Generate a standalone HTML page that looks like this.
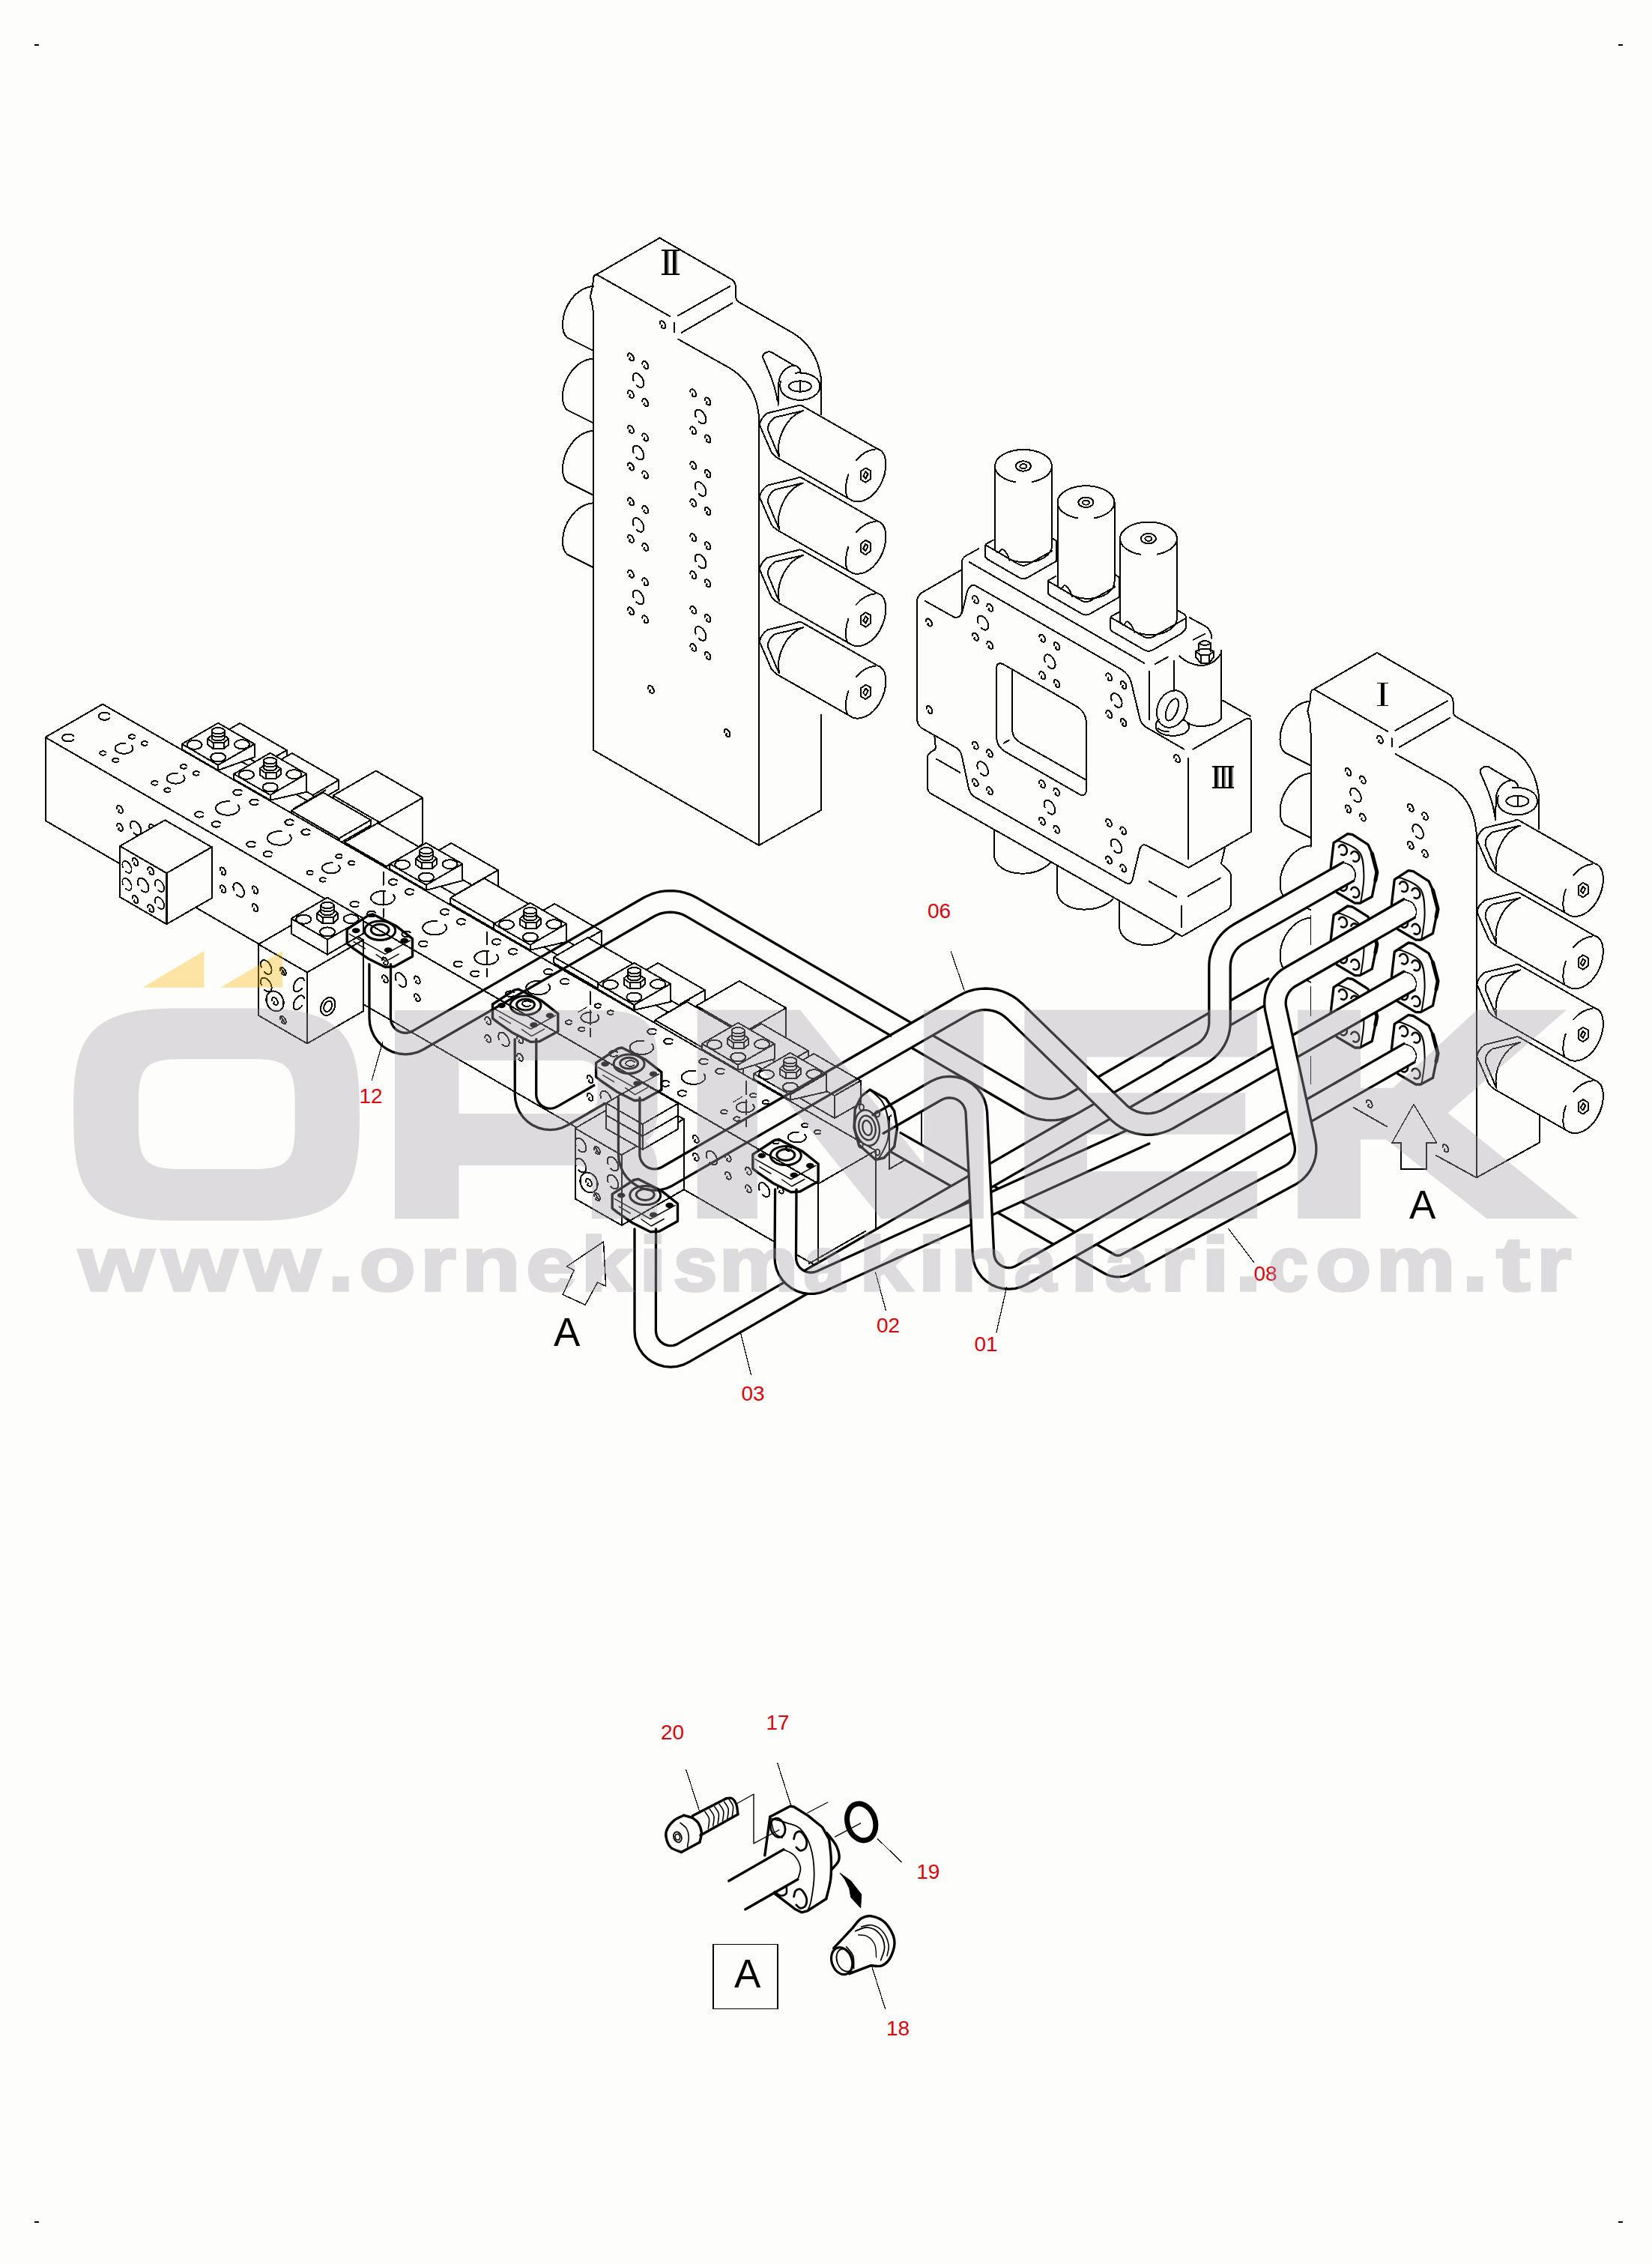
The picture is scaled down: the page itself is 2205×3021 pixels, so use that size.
<!DOCTYPE html>
<html><head><meta charset="utf-8"><title>diagram</title>
<style>html,body{margin:0;padding:0;background:#fdfefc}svg{display:block}text{font-family:"Liberation Sans",sans-serif}</style>
</head><body>
<svg width="2205" height="3021" viewBox="0 0 2205 3021">
<rect width="2205" height="3021" fill="#fdfefc"/>
<defs>
<path id="hs" d="M-3.8 -1.2 C-3.8 -1.5 -3.9 -2.4 -3.8 -3 C-3.8 -3.5 -3.6 -3.9 -3.3 -4.3 C-3.1 -4.6 -2.7 -4.9 -2.3 -5 C-1.9 -5.1 -1.4 -5 -0.9 -4.9 C-0.4 -4.8 0.1 -4.5 0.6 -4.1 C1.1 -3.7 1.6 -3.2 2 -2.7 C2.4 -2.1 2.8 -1.5 3.1 -0.9 C3.4 -0.2 3.7 0.5 3.8 1.1 C3.9 1.7 3.9 2.3 3.9 2.9 C3.8 3.4 3.6 3.9 3.4 4.2 C3.1 4.6 2.7 4.8 2.3 4.9 C2 5.1 1.5 5.1 1 4.9 C0.5 4.8 -0 4.5 -0.5 4.2 C-1 3.8 -1.9 3.3 -1.9 2.8 C-2 2.2 -1.1 1.3 -0.9 1"/>
<path id="hb" d="M-6.4 0.2 C-6.6 -0.3 -7.1 -2 -7.2 -3 C-7.3 -4 -7.3 -5 -7.1 -5.8 C-7 -6.7 -6.6 -7.4 -6.2 -8 C-5.8 -8.5 -5.2 -9 -4.5 -9.2 C-3.9 -9.4 -3.1 -9.4 -2.3 -9.3 C-1.5 -9.2 -0.7 -8.8 0.2 -8.3 C1 -7.8 1.9 -7.1 2.6 -6.3 C3.4 -5.5 4.2 -4.6 4.8 -3.6 C5.4 -2.6 6 -1.5 6.4 -0.4 C6.8 0.6 7 1.8 7.2 2.8 C7.3 3.8 7.3 4.8 7.1 5.7 C7 6.5 6.7 7.3 6.3 7.9 C5.8 8.5 5.3 8.9 4.6 9.1 C4 9.4 3.2 9.5 2.5 9.3 C1.7 9.2 0.8 8.9 -0 8.4 C-0.8 7.9 -2.1 6.8 -2.5 6.5"/>
<path id="hsv" d="M3.9 -2.6 C3.8 -2.9 3.7 -3.6 3.5 -4 C3.3 -4.4 3 -4.7 2.7 -4.8 C2.3 -5 1.9 -5.1 1.4 -5 C1 -5 0.5 -4.8 0 -4.5 C-0.4 -4.3 -0.9 -3.9 -1.4 -3.4 C-1.8 -3 -2.2 -2.4 -2.6 -1.9 C-2.9 -1.3 -3.2 -0.7 -3.5 -0.1 C-3.7 0.5 -3.8 1.2 -3.9 1.7 C-3.9 2.3 -3.9 2.9 -3.8 3.3 C-3.7 3.8 -3.4 4.2 -3.2 4.5 C-2.9 4.7 -2.5 4.9 -2.1 5 C-1.7 5.1 -1.3 5 -0.8 4.9 C-0.4 4.7 0.1 4.4 0.6 4.1 C1.1 3.7 1.7 3 1.9 2.8"/>
<path id="hbv" d="M7.2 -5.6 C7 -5.9 6.8 -7.1 6.4 -7.7 C6 -8.3 5.5 -8.7 5 -9 C4.4 -9.3 3.7 -9.4 3 -9.4 C2.3 -9.4 1.6 -9.2 0.8 -8.8 C0 -8.5 -0.8 -7.9 -1.5 -7.3 C-2.3 -6.7 -3 -5.9 -3.7 -5.1 C-4.4 -4.3 -5 -3.3 -5.5 -2.3 C-6 -1.4 -6.4 -0.3 -6.7 0.7 C-7 1.7 -7.2 2.7 -7.3 3.6 C-7.3 4.5 -7.2 5.4 -7 6.2 C-6.9 6.9 -6.5 7.6 -6.1 8.1 C-5.7 8.6 -5.2 9 -4.6 9.2 C-4 9.4 -3.2 9.4 -2.5 9.3 C-1.8 9.2 -1 8.9 -0.2 8.5 C0.5 8.1 1.3 7.5 2.1 6.9 C2.8 6.2 3.8 4.9 4.2 4.5"/>
</defs>
<g fill="none" stroke="#000" stroke-width="2" stroke-linecap="round" stroke-linejoin="round" shape-rendering="crispEdges">
<g transform="translate(0 0)">
<path d="M796.2 366.2 L880.5 317.5 L973.7 371.2 Q981.5 375 982 382 L982 395 Q982 400.5 987 403.5 L1056 443 Q1090 462 1096 505 L1096 553"/>
<path d="M796.2 366.2 L894.5 422.3"/>
<path d="M905 452.5 L972 490 Q1009 511 1013 556 L1013 1128"/>
<path d="M796.2 366.2 Q792 367.5 792 372 L791 382 L787.8 396 Q792 408 792 424"/>
<path d="M905 421.2 L974.2 382"/>
<path d="M910 443.7 L977.5 404.5"/>
<path d="M900 431.2 L900 443"/>
<use href="#hs" x="884.5" y="433.3"/>
<path d="M792 382 C768 384 751 410 751 433 C751 441 753 447 757 450.5 L792 468"/>
<path d="M792 478.4 C768 480.4 751 506.4 751 529.4 C751 537.4 753 543.4 757 546.9 L792 564.4"/>
<path d="M792 574.8 C768 576.8 751 602.8 751 625.8 C751 633.8 753 639.8 757 643.3 L792 660.8"/>
<path d="M792 671.2 C768 673.2 751 699.2 751 722.2 C751 730.2 753 736.2 757 739.7 L792 757.2"/>
<g transform="translate(0 0)">
<path d="M1071.1 541.8 L1171.3 599"/>
<path d="M1037.7 611 L1137.9 668.2"/>
<path d="M1171.3 599 C1185 603 1186 628 1174 649 C1163 667 1148 672 1137.9 668.2"/>
<path d="M1142.7 614.1 C1150 605 1160 600 1168 599.5"/>
<path d="M1132.3 633.2 C1128 645 1128 658 1131 663.5"/>
<path d="M1155.4 624.5 L1162 628 L1162 639 L1155.4 643.8 L1149 640 L1149 629 Z"/>
<path d="M1155.4 629.5 L1158.6 632.5 L1155.4 638.8 L1152.2 635.5 Z"/>
<path d="M1071.1 541.8 Q1067.5 539.5 1063.2 541.8 L1024.2 551.3 Q1014.5 559 1013.9 567.2 L1029.8 603.8 Q1033 608 1037.7 611"/>
<path d="M1071.9 548.1 L1034.5 556.9 Q1024 564 1025 574 L1036.1 600.6 L1040 609.4"/>
<path d="M1071.9 548.1 C1050 556 1035 585 1040 609.4"/>
</g>
<g transform="translate(0 96.4)">
<path d="M1071.1 541.8 L1171.3 599"/>
<path d="M1037.7 611 L1137.9 668.2"/>
<path d="M1171.3 599 C1185 603 1186 628 1174 649 C1163 667 1148 672 1137.9 668.2"/>
<path d="M1142.7 614.1 C1150 605 1160 600 1168 599.5"/>
<path d="M1132.3 633.2 C1128 645 1128 658 1131 663.5"/>
<path d="M1155.4 624.5 L1162 628 L1162 639 L1155.4 643.8 L1149 640 L1149 629 Z"/>
<path d="M1155.4 629.5 L1158.6 632.5 L1155.4 638.8 L1152.2 635.5 Z"/>
<path d="M1071.1 541.8 Q1067.5 539.5 1063.2 541.8 L1024.2 551.3 Q1014.5 559 1013.9 567.2 L1029.8 603.8 Q1033 608 1037.7 611"/>
<path d="M1071.9 548.1 L1034.5 556.9 Q1024 564 1025 574 L1036.1 600.6 L1040 609.4"/>
<path d="M1071.9 548.1 C1050 556 1035 585 1040 609.4"/>
</g>
<g transform="translate(0 192.8)">
<path d="M1071.1 541.8 L1171.3 599"/>
<path d="M1037.7 611 L1137.9 668.2"/>
<path d="M1171.3 599 C1185 603 1186 628 1174 649 C1163 667 1148 672 1137.9 668.2"/>
<path d="M1142.7 614.1 C1150 605 1160 600 1168 599.5"/>
<path d="M1132.3 633.2 C1128 645 1128 658 1131 663.5"/>
<path d="M1155.4 624.5 L1162 628 L1162 639 L1155.4 643.8 L1149 640 L1149 629 Z"/>
<path d="M1155.4 629.5 L1158.6 632.5 L1155.4 638.8 L1152.2 635.5 Z"/>
<path d="M1071.1 541.8 Q1067.5 539.5 1063.2 541.8 L1024.2 551.3 Q1014.5 559 1013.9 567.2 L1029.8 603.8 Q1033 608 1037.7 611"/>
<path d="M1071.9 548.1 L1034.5 556.9 Q1024 564 1025 574 L1036.1 600.6 L1040 609.4"/>
<path d="M1071.9 548.1 C1050 556 1035 585 1040 609.4"/>
</g>
<g transform="translate(0 289.2)">
<path d="M1071.1 541.8 L1171.3 599"/>
<path d="M1037.7 611 L1137.9 668.2"/>
<path d="M1171.3 599 C1185 603 1186 628 1174 649 C1163 667 1148 672 1137.9 668.2"/>
<path d="M1142.7 614.1 C1150 605 1160 600 1168 599.5"/>
<path d="M1132.3 633.2 C1128 645 1128 658 1131 663.5"/>
<path d="M1155.4 624.5 L1162 628 L1162 639 L1155.4 643.8 L1149 640 L1149 629 Z"/>
<path d="M1155.4 629.5 L1158.6 632.5 L1155.4 638.8 L1152.2 635.5 Z"/>
<path d="M1071.1 541.8 Q1067.5 539.5 1063.2 541.8 L1024.2 551.3 Q1014.5 559 1013.9 567.2 L1029.8 603.8 Q1033 608 1037.7 611"/>
<path d="M1071.9 548.1 L1034.5 556.9 Q1024 564 1025 574 L1036.1 600.6 L1040 609.4"/>
<path d="M1071.9 548.1 C1050 556 1035 585 1040 609.4"/>
</g>
<ellipse cx="1067.9" cy="515.5" rx="15" ry="7.2"/>
<path d="M1068 508.3 L1068 522.7"/>
<path d="M1061.5 497.7 C1080 496 1094.5 504 1094.5 515.5 C1094.5 526 1082 533.8 1067.9 533.8 C1053 533.8 1041.3 526 1041.3 515.5 C1041.3 512 1041.5 510 1042.2 508.5"/>
<path d="M1068.7 496.5 C1068 491 1065 488.5 1060 487.7 L1033 472 Q1026.6 466.5 1020 472 Q1017 475 1019 479 C1027 497 1035 515 1037.7 535.4"/>
<path d="M1060 487.7 C1048 489 1039.3 500 1039.3 513 L1038.5 541"/>
<path d="M792 424 L792 1001 L1013 1128 L1096 1081 L1096 954"/>
<use href="#hs" x="842" y="476.4"/>
<use href="#hs" x="861.3" y="487"/>
<use href="#hb" x="852" y="507.5"/>
<use href="#hs" x="842" y="526"/>
<use href="#hs" x="861.3" y="537"/>
<use href="#hs" x="925.3" y="524.4"/>
<use href="#hs" x="944.6" y="535.5"/>
<use href="#hb" x="935.1" y="556"/>
<use href="#hs" x="925.3" y="574.4"/>
<use href="#hs" x="944.6" y="585.5"/>
<use href="#hs" x="842" y="572.9"/>
<use href="#hs" x="861.3" y="583.5"/>
<use href="#hb" x="852" y="604"/>
<use href="#hs" x="842" y="622.5"/>
<use href="#hs" x="861.3" y="633.5"/>
<use href="#hs" x="925.3" y="620.9"/>
<use href="#hs" x="944.6" y="632"/>
<use href="#hb" x="935.1" y="652.5"/>
<use href="#hs" x="925.3" y="670.9"/>
<use href="#hs" x="944.6" y="682"/>
<use href="#hs" x="842" y="669.3"/>
<use href="#hs" x="861.3" y="679.9"/>
<use href="#hb" x="852" y="700.4"/>
<use href="#hs" x="842" y="718.9"/>
<use href="#hs" x="861.3" y="729.9"/>
<use href="#hs" x="925.3" y="717.3"/>
<use href="#hs" x="944.6" y="728.4"/>
<use href="#hb" x="935.1" y="748.9"/>
<use href="#hs" x="925.3" y="767.3"/>
<use href="#hs" x="944.6" y="778.4"/>
<use href="#hs" x="842" y="765.8"/>
<use href="#hs" x="861.3" y="776.4"/>
<use href="#hb" x="852" y="796.9"/>
<use href="#hs" x="842" y="815.4"/>
<use href="#hs" x="861.3" y="826.4"/>
<use href="#hs" x="925.3" y="813.8"/>
<use href="#hs" x="944.6" y="824.9"/>
<use href="#hb" x="935.1" y="845.4"/>
<use href="#hs" x="925.3" y="863.8"/>
<use href="#hs" x="944.6" y="874.9"/>
<use href="#hs" x="868.9" y="920"/>
<use href="#hs" x="970.6" y="978"/>
<g stroke-width="1.3">
<path d="M884 334 L906 334" stroke-width="1.6"/>
<path d="M884 366 L906 366" stroke-width="1.6"/>
<rect x="887.3" y="334.5" width="3.4" height="31.5" fill="#000" stroke="none"/>
<path d="M892 334.5 L892 366" stroke-width="0.9"/>
<rect x="898.3" y="334.5" width="3.4" height="31.5" fill="#000" stroke="none"/>
<path d="M903 334.5 L903 366" stroke-width="0.9"/>
</g>
</g>
<g transform="translate(957.5 553.5)">
<path d="M796.2 366.2 L880.5 317.5 L973.7 371.2 Q981.5 375 982 382 L982 395 Q982 400.5 987 403.5 L1056 443 Q1090 462 1096 505 L1096 553"/>
<path d="M796.2 366.2 L894.5 422.3"/>
<path d="M905 452.5 L972 490 Q1009 511 1013 556 L1013 1017.9"/>
<path d="M796.2 366.2 Q792 367.5 792 372 L791 382 L787.8 396 Q792 408 792 424"/>
<path d="M905 421.2 L974.2 382"/>
<path d="M910 443.7 L977.5 404.5"/>
<path d="M900 431.2 L900 443"/>
<use href="#hs" x="884.5" y="433.3"/>
<path d="M792 382 C768 384 751 410 751 433 C751 441 753 447 757 450.5 L792 468"/>
<path d="M792 478.4 C768 480.4 751 506.4 751 529.4 C751 537.4 753 543.4 757 546.9 L792 564.4"/>
<path d="M792 574.8 C768 576.8 751 602.8 751 625.8 C751 633.8 753 639.8 757 643.3 L792 660.8"/>
<path d="M792 671.2 C768 673.2 751 699.2 751 722.2 C751 730.2 753 736.2 757 739.7 L792 757.2"/>
<g transform="translate(0 0)">
<path d="M1071.1 541.8 L1171.3 599"/>
<path d="M1037.7 611 L1137.9 668.2"/>
<path d="M1171.3 599 C1185 603 1186 628 1174 649 C1163 667 1148 672 1137.9 668.2"/>
<path d="M1142.7 614.1 C1150 605 1160 600 1168 599.5"/>
<path d="M1132.3 633.2 C1128 645 1128 658 1131 663.5"/>
<path d="M1155.4 624.5 L1162 628 L1162 639 L1155.4 643.8 L1149 640 L1149 629 Z"/>
<path d="M1155.4 629.5 L1158.6 632.5 L1155.4 638.8 L1152.2 635.5 Z"/>
<path d="M1071.1 541.8 Q1067.5 539.5 1063.2 541.8 L1024.2 551.3 Q1014.5 559 1013.9 567.2 L1029.8 603.8 Q1033 608 1037.7 611"/>
<path d="M1071.9 548.1 L1034.5 556.9 Q1024 564 1025 574 L1036.1 600.6 L1040 609.4"/>
<path d="M1071.9 548.1 C1050 556 1035 585 1040 609.4"/>
</g>
<g transform="translate(0 96.4)">
<path d="M1071.1 541.8 L1171.3 599"/>
<path d="M1037.7 611 L1137.9 668.2"/>
<path d="M1171.3 599 C1185 603 1186 628 1174 649 C1163 667 1148 672 1137.9 668.2"/>
<path d="M1142.7 614.1 C1150 605 1160 600 1168 599.5"/>
<path d="M1132.3 633.2 C1128 645 1128 658 1131 663.5"/>
<path d="M1155.4 624.5 L1162 628 L1162 639 L1155.4 643.8 L1149 640 L1149 629 Z"/>
<path d="M1155.4 629.5 L1158.6 632.5 L1155.4 638.8 L1152.2 635.5 Z"/>
<path d="M1071.1 541.8 Q1067.5 539.5 1063.2 541.8 L1024.2 551.3 Q1014.5 559 1013.9 567.2 L1029.8 603.8 Q1033 608 1037.7 611"/>
<path d="M1071.9 548.1 L1034.5 556.9 Q1024 564 1025 574 L1036.1 600.6 L1040 609.4"/>
<path d="M1071.9 548.1 C1050 556 1035 585 1040 609.4"/>
</g>
<g transform="translate(0 192.8)">
<path d="M1071.1 541.8 L1171.3 599"/>
<path d="M1037.7 611 L1137.9 668.2"/>
<path d="M1171.3 599 C1185 603 1186 628 1174 649 C1163 667 1148 672 1137.9 668.2"/>
<path d="M1142.7 614.1 C1150 605 1160 600 1168 599.5"/>
<path d="M1132.3 633.2 C1128 645 1128 658 1131 663.5"/>
<path d="M1155.4 624.5 L1162 628 L1162 639 L1155.4 643.8 L1149 640 L1149 629 Z"/>
<path d="M1155.4 629.5 L1158.6 632.5 L1155.4 638.8 L1152.2 635.5 Z"/>
<path d="M1071.1 541.8 Q1067.5 539.5 1063.2 541.8 L1024.2 551.3 Q1014.5 559 1013.9 567.2 L1029.8 603.8 Q1033 608 1037.7 611"/>
<path d="M1071.9 548.1 L1034.5 556.9 Q1024 564 1025 574 L1036.1 600.6 L1040 609.4"/>
<path d="M1071.9 548.1 C1050 556 1035 585 1040 609.4"/>
</g>
<g transform="translate(0 289.2)">
<path d="M1071.1 541.8 L1171.3 599"/>
<path d="M1037.7 611 L1137.9 668.2"/>
<path d="M1171.3 599 C1185 603 1186 628 1174 649 C1163 667 1148 672 1137.9 668.2"/>
<path d="M1142.7 614.1 C1150 605 1160 600 1168 599.5"/>
<path d="M1132.3 633.2 C1128 645 1128 658 1131 663.5"/>
<path d="M1155.4 624.5 L1162 628 L1162 639 L1155.4 643.8 L1149 640 L1149 629 Z"/>
<path d="M1155.4 629.5 L1158.6 632.5 L1155.4 638.8 L1152.2 635.5 Z"/>
<path d="M1071.1 541.8 Q1067.5 539.5 1063.2 541.8 L1024.2 551.3 Q1014.5 559 1013.9 567.2 L1029.8 603.8 Q1033 608 1037.7 611"/>
<path d="M1071.9 548.1 L1034.5 556.9 Q1024 564 1025 574 L1036.1 600.6 L1040 609.4"/>
<path d="M1071.9 548.1 C1050 556 1035 585 1040 609.4"/>
</g>
<ellipse cx="1067.9" cy="515.5" rx="15" ry="7.2"/>
<path d="M1068 508.3 L1068 522.7"/>
<path d="M1061.5 497.7 C1080 496 1094.5 504 1094.5 515.5 C1094.5 526 1082 533.8 1067.9 533.8 C1053 533.8 1041.3 526 1041.3 515.5 C1041.3 512 1041.5 510 1042.2 508.5"/>
<path d="M1068.7 496.5 C1068 491 1065 488.5 1060 487.7 L1033 472 Q1026.6 466.5 1020 472 Q1017 475 1019 479 C1027 497 1035 515 1037.7 535.4"/>
<path d="M1060 487.7 C1048 489 1039.3 500 1039.3 513 L1038.5 541"/>
<path d="M959.2 988.2 L1013.2 1017.9 L1097 971.2 L1097 933.1"/>
<path d="M849 924.2 L893.5 949.6"/>
<use href="#hs" x="870.2" y="919.3"/>
<use href="#hs" x="971.9" y="978.7"/>
<path d="M792 424 L792 576.5"/>
<path d="M792 668.5 L792 706.5" stroke-width="1.2"/>
<path d="M792 763.5 L792 801.5" stroke-width="1.2"/>
<path d="M792 856.5 L792 892.5" stroke-width="1.2"/>
<path d="M792 926.5 L792 946.5" stroke-width="1.2"/>
<path d="M792 958.5 L792 991.5" stroke-width="1.2"/>
<use href="#hs" x="842" y="476.4"/>
<use href="#hs" x="861.3" y="487"/>
<use href="#hb" x="852" y="507.5"/>
<use href="#hs" x="842" y="526"/>
<use href="#hs" x="861.3" y="537"/>
<use href="#hs" x="925.3" y="524.4"/>
<use href="#hs" x="944.6" y="535.5"/>
<use href="#hb" x="935.1" y="556"/>
<use href="#hs" x="925.3" y="574.4"/>
<use href="#hs" x="944.6" y="585.5"/>
<g stroke-width="1.3">
<path d="M880.8 358 L894.8 358" stroke-width="1.6"/>
<path d="M880.8 388 L894.8 388" stroke-width="1.6"/>
<rect x="885.6" y="358.5" width="3.4" height="29" fill="#000" stroke="none"/>
<path d="M890 358.5 L890 387.5" stroke-width="0.9"/>
</g>
</g>
<g transform="translate(0 0)">
<path d="M1328 622 A37.9 22 0 0 1 1404 622"/>
<path d="M1328 622 A37.9 22 0 0 0 1355 643.2"/>
<path d="M1404 622 A37.9 22 0 0 1 1377.5 643"/>
<ellipse cx="1365.9" cy="622" rx="10" ry="6.7"/><ellipse cx="1365.9" cy="622.3" rx="4.5" ry="3"/>
<path d="M1328 622 L1328 734"/>
<path d="M1404 622 L1404 728 C1404 740 1390 750 1370 750.5 C1360 750.5 1352 748.5 1347 745.5"/>
<path d="M1328 733.7 C1328.8 734.3 1330.9 737.6 1332.5 737.5 C1334.1 737.4 1335.6 732.6 1337.5 732.8 C1339.4 733 1342 736.2 1343.7 738.7 C1345.4 741.2 1346.9 746 1347.5 747.5"/>
<path d="M1326 720.5 L1317.5 725.2 Q1315 726.5 1315 729.5 L1315 741 Q1315 744.5 1318 746.2 L1360 770.5 Q1366 774 1372 770.5 L1410 748.7"/>
<path d="M1316 727.5 L1360 753.2 Q1366 756.5 1372 753.2 L1404.5 735"/>
</g>
<g transform="translate(83.5 48.3)">
<path d="M1328 622 A37.9 22 0 0 1 1404 622"/>
<path d="M1328 622 A37.9 22 0 0 0 1355 643.2"/>
<path d="M1404 622 A37.9 22 0 0 1 1377.5 643"/>
<ellipse cx="1365.9" cy="622" rx="10" ry="6.7"/><ellipse cx="1365.9" cy="622.3" rx="4.5" ry="3"/>
<path d="M1328 622 L1328 734"/>
<path d="M1404 622 L1404 728 C1404 740 1390 750 1370 750.5 C1360 750.5 1352 748.5 1347 745.5"/>
<path d="M1328 733.7 C1328.8 734.3 1330.9 737.6 1332.5 737.5 C1334.1 737.4 1335.6 732.6 1337.5 732.8 C1339.4 733 1342 736.2 1343.7 738.7 C1345.4 741.2 1346.9 746 1347.5 747.5"/>
<path d="M1326 720.5 L1317.5 725.2 Q1315 726.5 1315 729.5 L1315 741 Q1315 744.5 1318 746.2 L1360 770.5 Q1366 774 1372 770.5 L1410 748.7"/>
<path d="M1316 727.5 L1360 753.2 Q1366 756.5 1372 753.2 L1404.5 735"/>
</g>
<g transform="translate(167 96.6)">
<path d="M1328 622 A37.9 22 0 0 1 1404 622"/>
<path d="M1328 622 A37.9 22 0 0 0 1355 643.2"/>
<path d="M1404 622 A37.9 22 0 0 1 1377.5 643"/>
<ellipse cx="1365.9" cy="622" rx="10" ry="6.7"/><ellipse cx="1365.9" cy="622.3" rx="4.5" ry="3"/>
<path d="M1328 622 L1328 734"/>
<path d="M1404 622 L1404 728 C1404 740 1390 750 1370 750.5 C1360 750.5 1352 748.5 1347 745.5"/>
<path d="M1328 733.7 C1328.8 734.3 1330.9 737.6 1332.5 737.5 C1334.1 737.4 1335.6 732.6 1337.5 732.8 C1339.4 733 1342 736.2 1343.7 738.7 C1345.4 741.2 1346.9 746 1347.5 747.5"/>
<path d="M1326 720.5 L1317.5 725.2 Q1315 726.5 1315 729.5 L1315 741 Q1315 744.5 1318 746.2 L1360 770.5 Q1366 774 1372 770.5 L1410 748.7"/>
<path d="M1316 727.5 L1360 753.2 Q1366 756.5 1372 753.2 L1404.5 735"/>
</g>
<path d="M1405 718.7 L1410.3 722"/>
<path d="M1410 722 L1410 748.7"/>
<path d="M1488.5 767 L1493.8 770.3"/>
<path d="M1494 770.3 L1494 797"/>
<path d="M1572 814.5 L1580.5 819.5 Q1583 821 1583 824 L1583 836 Q1583 840 1580 842 L1577 845.3"/>
<path d="M1571.5 831.5 L1582 825.5"/>
<path d="M1306.5 732 L1290 741.2 Q1284 744.5 1284 750 L1284 813.5"/>
<path d="M1293.7 750 L1527.5 885"/>
<path d="M1284 760 L1231 790.5"/>
<path d="M1231 790.5 Q1224 795 1224 803 L1224 958 Q1224 967 1230 971.5 L1276 997.5 Q1282.5 1001.5 1284 1009.5 L1292.8 1051 Q1294.5 1060 1301 1063.5 L1503 1178.2 Q1509.5 1181.5 1511.5 1174 L1521 1134 Q1523 1125.5 1530 1128 L1586.4 1157.8"/>
<path d="M1284 813.5 Q1283.5 823.7 1277 823.7 L1273.7 823.7 L1235 802"/>
<path d="M1284 818 L1288.5 800 Q1290.5 787 1294.5 783.5 Q1297.5 779.5 1302 781.5 L1497 893.5 Q1507 899.5 1510 911 L1521.5 959 Q1523.5 967 1530 970.5 L1580.5 999.8"/>
<path d="M1330 893 Q1330 882.5 1339 886.3 L1436 942 Q1450 950 1450 966 L1450 1052 Q1450 1063.5 1441.5 1060.3 L1342 1003.2 Q1330 996 1330 983 Z"/>
<path d="M1351 893.5 L1351 973 Q1351 984.5 1361.8 991 L1450 1040.9"/>
<path d="M1339.8 991.6 L1347.1 987.5"/>
<use href="#hs" x="1302" y="800.1"/>
<use href="#hs" x="1321.3" y="810.7"/>
<use href="#hb" x="1312" y="831.2"/>
<use href="#hs" x="1302" y="849.7"/>
<use href="#hs" x="1321.3" y="860.7"/>
<use href="#hs" x="1301.7" y="994.6"/>
<use href="#hs" x="1321" y="1005.2"/>
<use href="#hb" x="1311.7" y="1025.7"/>
<use href="#hs" x="1301.7" y="1044.2"/>
<use href="#hs" x="1321" y="1055.2"/>
<use href="#hs" x="1391.3" y="851.6"/>
<use href="#hs" x="1410.6" y="862.2"/>
<use href="#hb" x="1401.3" y="882.7"/>
<use href="#hs" x="1391.3" y="901.2"/>
<use href="#hs" x="1410.6" y="912.2"/>
<use href="#hs" x="1391" y="1046.1"/>
<use href="#hs" x="1410.3" y="1056.7"/>
<use href="#hb" x="1401" y="1077.2"/>
<use href="#hs" x="1391" y="1095.7"/>
<use href="#hs" x="1410.3" y="1106.7"/>
<use href="#hs" x="1480.3" y="903.4"/>
<use href="#hs" x="1499.6" y="914"/>
<use href="#hb" x="1490.3" y="934.5"/>
<use href="#hs" x="1480.3" y="953"/>
<use href="#hs" x="1499.6" y="964"/>
<use href="#hs" x="1480" y="1097.9"/>
<use href="#hs" x="1499.3" y="1108.5"/>
<use href="#hb" x="1490" y="1129"/>
<use href="#hs" x="1480" y="1147.5"/>
<use href="#hs" x="1499.3" y="1158.5"/>
<use href="#hs" x="1240" y="830.5"/>
<use href="#hs" x="1240.5" y="947"/>
<use href="#hs" x="1571.1" y="1012.2"/>
<path d="M1247.3 982.2 L1248.8 997 Q1249 1000 1245 1002 Q1238 1005.5 1238 1011 L1238 1050 Q1238 1057 1244.4 1060 L1577.6 1249.4 L1638 1214.5 Q1643 1211.5 1643 1205 L1643 1169 Q1643 1164.5 1639 1161 L1630 1152.5 L1634.8 1132"/>
<path d="M1250.2 1013 L1281.1 1030.7"/>
<path d="M1533.6 1176 L1570.3 1196.5"/>
<path d="M1585.5 1196 L1629 1171.6"/>
<path d="M1577 1208.9 L1577 1237.1"/>
<path d="M1586 1011.6 L1586 1146.6"/>
<path d="M1592.3 999.8 L1661.3 960.2 Q1670 956 1670 964 L1670 1109.9 L1586.4 1157.8"/>
<path d="M1631.9 934.6 L1668.6 955.5"/>
<g stroke-width="1.3">
<path d="M1618.8 1023 L1646.8 1023" stroke-width="1.6"/>
<path d="M1618.8 1051 L1646.8 1051" stroke-width="1.6"/>
<rect x="1621.1" y="1022.7" width="3.4" height="28.5" fill="#000" stroke="none"/>
<path d="M1626 1022.7 L1626 1051.2" stroke-width="0.9"/>
<rect x="1630.6" y="1022.7" width="3.4" height="28.5" fill="#000" stroke="none"/>
<path d="M1635 1022.7 L1635 1051.2" stroke-width="0.9"/>
<rect x="1640.1" y="1022.7" width="3.4" height="28.5" fill="#000" stroke="none"/>
<path d="M1645 1022.7 L1645 1051.2" stroke-width="0.9"/>
</g>
<path d="M1327 1107 L1327 1141 C1327 1155 1343 1165.7 1364.7 1165.7 C1381 1165.7 1396 1159 1402.9 1149.6"/>
<path d="M1411 1155.4 L1411 1189 C1411 1203 1426 1213.6 1446.9 1213.6 C1464 1213.6 1478 1208 1485.1 1199.5"/>
<path d="M1494 1202.4 L1494 1236 C1494 1250 1509 1261.1 1530.6 1261.1 C1547 1261.1 1562 1255 1568.8 1246.4"/>
<path d="M1588.1 824.3 L1607 834.5 Q1617.4 840 1617.4 852"/>
<path d="M1541.7 886.1 L1558.7 876.8"/>
<path d="M1592.7 853.6 L1608.2 845.9"/>
<path d="M1534 895.4 L1534 960.5"/>
<path d="M1567 881.5 L1567 922"/>
<path d="M1574.2 875.3 Q1585 886 1601 888 Q1620 888.5 1629.5 872 "/>
<path d="M1629.8 868 Q1630 870 1630 874 L1630 958.7 C1626 965 1615 969 1602.5 969 C1593 969 1585 965.5 1580.5 960.2"/>
<path d="M1600.4 869 L1600.4 858 Q1608 852 1615.9 858 L1615.9 869"/>
<path d="M1600.4 858.5 Q1608 863.5 1615.9 858.5"/>
<path d="M1596 869.1 L1596 877 L1603 885 L1613.5 885 L1620 877 L1620 869.1 L1613.5 866 L1603 866 Z"/>
<path d="M1603 884.6 L1603 874.5 L1595.8 869.1"/>
<path d="M1603 874 L1613.5 874 L1620.5 869.1"/>
<path d="M1614 874.5 L1614 884.6"/>
<ellipse cx="1564.4" cy="946" rx="19.5" ry="25.5" transform="rotate(22 1564.4 946)"/>
<ellipse cx="1564.4" cy="947" rx="7" ry="15.5" transform="rotate(22 1564.4 947)"/>
<path d="M1547 960 C1540 966 1541 976 1553 980 C1566 984 1583 981 1586.5 973 C1588.5 968 1585 962.5 1579.5 960.5"/>
<path d="M1545.5 972 Q1552 976.5 1560 976.5"/>
<path d="M285.6 985 L348 1021 L348 1031 L285.6 995 Z" fill="#fdfefc"/>
<path d="M348 1021 L383 1001 L383 1011 L348 1031 Z" fill="#fdfefc"/>
<path d="M285.6 985 L320.3 965 L382.6 1001 L348 1021 Z" fill="#fdfefc"/>
<path d="M242.8 992.8 L291 1020.8 L291 1027.8 L242.8 999.8 Z" fill="#fdfefc"/>
<path d="M291.2 1020.8 L340 992.8 L340 1010.2 L291.2 1027.8 Z" fill="#fdfefc"/>
<path d="M242.8 992.8 L291.2 964.8 L339.7 992.8 L291.2 1020.8 Z" fill="#fdfefc"/>
<ellipse cx="259.6" cy="993.8" rx="10" ry="6"/>
<ellipse cx="322.9" cy="993.2" rx="10" ry="6"/>
<ellipse cx="291.2" cy="1010.5" rx="10" ry="6"/>
<g transform="translate(291.2 992.2)">
<path d="M-14 -6.5 L-14 1.5 L-6.5 7 L7.5 7 L14 1.5 L14 -6.5 L7.5 -1 L-6.5 -1 Z" fill="#fdfefc"/>
<path d="M-14 -6.5 L-7.5 -12 L6.5 -12 L14 -6.5 L7.5 -1 L-6.5 -1 Z" fill="#fdfefc"/>
<path d="M-6 -1 L-6 7"/>
<path d="M8 -1 L8 7"/>
<path d="M-8.7 -17 L-8.7 -8 A8.7 4.2 0 0 0 8.7 -8 L8.7 -17" fill="#fdfefc"/>
<ellipse cx="0" cy="-17" rx="8.7" ry="4.2" fill="#fdfefc"/>
<path d="M8.2 -11.6 C7.9 -11.4 7.3 -10.7 6.7 -10.3 C6 -9.9 5.2 -9.6 4.4 -9.4 C3.5 -9.1 2.5 -8.9 1.5 -8.9 C0.5 -8.8 -0.5 -8.8 -1.5 -8.9 C-2.5 -8.9 -3.5 -9.1 -4.3 -9.4 C-5.2 -9.6 -6 -9.9 -6.7 -10.3 C-7.3 -10.7 -7.9 -11.4 -8.2 -11.6"/>
</g>
<path d="M355.1 1025 L418 1061 L418 1073 L355.1 1037 Z" fill="#fdfefc"/>
<path d="M417.5 1061 L452 1041 L452 1053 L417.5 1073 Z" fill="#fdfefc"/>
<path d="M355.1 1025 L389.8 1005 L452.1 1041 L417.5 1061 Z" fill="#fdfefc"/>
<path d="M312.2 1032.8 L361 1060.8 L361 1067.8 L312.2 1039.8 Z" fill="#fdfefc"/>
<path d="M360.6 1060.8 L409 1032.8 L409 1056.8 L360.6 1067.8 Z" fill="#fdfefc"/>
<path d="M312.2 1032.8 L360.6 1004.8 L409.1 1032.8 L360.6 1060.8 Z" fill="#fdfefc"/>
<ellipse cx="328.9" cy="1033.8" rx="10" ry="6"/>
<ellipse cx="392.3" cy="1033.2" rx="10" ry="6"/>
<ellipse cx="360.6" cy="1050.5" rx="10" ry="6"/>
<g transform="translate(360.6 1032.2)">
<path d="M-14 -6.5 L-14 1.5 L-6.5 7 L7.5 7 L14 1.5 L14 -6.5 L7.5 -1 L-6.5 -1 Z" fill="#fdfefc"/>
<path d="M-14 -6.5 L-7.5 -12 L6.5 -12 L14 -6.5 L7.5 -1 L-6.5 -1 Z" fill="#fdfefc"/>
<path d="M-6 -1 L-6 7"/>
<path d="M8 -1 L8 7"/>
<path d="M-8.7 -17 L-8.7 -8 A8.7 4.2 0 0 0 8.7 -8 L8.7 -17" fill="#fdfefc"/>
<ellipse cx="0" cy="-17" rx="8.7" ry="4.2" fill="#fdfefc"/>
<path d="M8.2 -11.6 C7.9 -11.4 7.3 -10.7 6.7 -10.3 C6 -9.9 5.2 -9.6 4.4 -9.4 C3.5 -9.1 2.5 -8.9 1.5 -8.9 C0.5 -8.8 -0.5 -8.8 -1.5 -8.9 C-2.5 -8.9 -3.5 -9.1 -4.3 -9.4 C-5.2 -9.6 -6 -9.9 -6.7 -10.3 C-7.3 -10.7 -7.9 -11.4 -8.2 -11.6"/>
</g>
<path d="M444.6 1061.5 L507 1097.5 L507 1159.5 L444.6 1123.5 Z" fill="#fdfefc"/>
<path d="M507 1097.5 L564 1064.5 L564 1126.5 L507 1159.5 Z" fill="#fdfefc"/>
<path d="M444.6 1061.5 L501.8 1028.5 L564.2 1064.5 L507 1097.5 Z" fill="#fdfefc"/>
<path d="M388.8 1081.9 L452 1118.7 L452 1125.7 L388.8 1088.9 Z" fill="#fdfefc"/>
<path d="M452.5 1118.7 L495 1094.2 L495 1101.2 L452.5 1125.7 Z" fill="#fdfefc"/>
<path d="M388.8 1081.9 L431.2 1057.4 L494.9 1094.2 L452.5 1118.7 Z" fill="#fdfefc"/>
<path d="M392 1079 L434.5 1054.5"/>
<path d="M459.9 1123.8 L516 1156 L516 1164 L459.9 1131.8 Z" fill="#fdfefc"/>
<path d="M515.7 1156 L560 1130.5 L560 1138.5 L515.7 1164 Z" fill="#fdfefc"/>
<path d="M459.9 1123.8 L504.1 1098.3 L559.9 1130.5 L515.7 1156 Z" fill="#fdfefc"/>
<path d="M567.6 1145 L630 1181 L630 1207 L567.6 1171 Z" fill="#fdfefc"/>
<path d="M630 1181 L665 1161 L665 1187 L630 1207 Z" fill="#fdfefc"/>
<path d="M567.6 1145 L602.3 1125 L664.6 1161 L630 1181 Z" fill="#fdfefc"/>
<path d="M520.4 1152.8 L569 1180.8 L569 1187.8 L520.4 1159.8 Z" fill="#fdfefc"/>
<path d="M568.9 1180.8 L617 1152.8 L617 1175.2 L568.9 1187.8 Z" fill="#fdfefc"/>
<path d="M520.4 1152.8 L568.9 1124.8 L617.3 1152.8 L568.9 1180.8 Z" fill="#fdfefc"/>
<ellipse cx="537.1" cy="1153.8" rx="10" ry="6"/>
<ellipse cx="600.6" cy="1153.2" rx="10" ry="6"/>
<ellipse cx="568.9" cy="1170.5" rx="10" ry="6"/>
<g transform="translate(568.9 1152.2)">
<path d="M-14 -6.5 L-14 1.5 L-6.5 7 L7.5 7 L14 1.5 L14 -6.5 L7.5 -1 L-6.5 -1 Z" fill="#fdfefc"/>
<path d="M-14 -6.5 L-7.5 -12 L6.5 -12 L14 -6.5 L7.5 -1 L-6.5 -1 Z" fill="#fdfefc"/>
<path d="M-6 -1 L-6 7"/>
<path d="M8 -1 L8 7"/>
<path d="M-8.7 -17 L-8.7 -8 A8.7 4.2 0 0 0 8.7 -8 L8.7 -17" fill="#fdfefc"/>
<ellipse cx="0" cy="-17" rx="8.7" ry="4.2" fill="#fdfefc"/>
<path d="M8.2 -11.6 C7.9 -11.4 7.3 -10.7 6.7 -10.3 C6 -9.9 5.2 -9.6 4.4 -9.4 C3.5 -9.1 2.5 -8.9 1.5 -8.9 C0.5 -8.8 -0.5 -8.8 -1.5 -8.9 C-2.5 -8.9 -3.5 -9.1 -4.3 -9.4 C-5.2 -9.6 -6 -9.9 -6.7 -10.3 C-7.3 -10.7 -7.9 -11.4 -8.2 -11.6"/>
</g>
<path d="M601.4 1198 L662 1233 L662 1241 L601.4 1206 Z" fill="#fdfefc"/>
<path d="M662 1233 L707 1207 L707 1215 L662 1241 Z" fill="#fdfefc"/>
<path d="M601.4 1198 L646.4 1172 L707 1207 L662 1233 Z" fill="#fdfefc"/>
<path d="M604 1196 L648 1171"/>
<path d="M705.6 1226 L768 1262 L768 1288 L705.6 1252 Z" fill="#fdfefc"/>
<path d="M768 1262 L803 1242 L803 1268 L768 1288 Z" fill="#fdfefc"/>
<path d="M705.6 1226 L740.3 1206 L802.6 1242 L768 1262 Z" fill="#fdfefc"/>
<path d="M659.2 1232.8 L708 1260.8 L708 1267.8 L659.2 1239.8 Z" fill="#fdfefc"/>
<path d="M707.7 1260.8 L756 1232.8 L756 1256.8 L707.7 1267.8 Z" fill="#fdfefc"/>
<path d="M659.2 1232.8 L707.7 1204.8 L756.1 1232.8 L707.7 1260.8 Z" fill="#fdfefc"/>
<ellipse cx="676" cy="1233.8" rx="10" ry="6"/>
<ellipse cx="739.4" cy="1233.2" rx="10" ry="6"/>
<ellipse cx="707.7" cy="1250.5" rx="10" ry="6"/>
<g transform="translate(707.7 1232.2)">
<path d="M-14 -6.5 L-14 1.5 L-6.5 7 L7.5 7 L14 1.5 L14 -6.5 L7.5 -1 L-6.5 -1 Z" fill="#fdfefc"/>
<path d="M-14 -6.5 L-7.5 -12 L6.5 -12 L14 -6.5 L7.5 -1 L-6.5 -1 Z" fill="#fdfefc"/>
<path d="M-6 -1 L-6 7"/>
<path d="M8 -1 L8 7"/>
<path d="M-8.7 -17 L-8.7 -8 A8.7 4.2 0 0 0 8.7 -8 L8.7 -17" fill="#fdfefc"/>
<ellipse cx="0" cy="-17" rx="8.7" ry="4.2" fill="#fdfefc"/>
<path d="M8.2 -11.6 C7.9 -11.4 7.3 -10.7 6.7 -10.3 C6 -9.9 5.2 -9.6 4.4 -9.4 C3.5 -9.1 2.5 -8.9 1.5 -8.9 C0.5 -8.8 -0.5 -8.8 -1.5 -8.9 C-2.5 -8.9 -3.5 -9.1 -4.3 -9.4 C-5.2 -9.6 -6 -9.9 -6.7 -10.3 C-7.3 -10.7 -7.9 -11.4 -8.2 -11.6"/>
</g>
<path d="M739.4 1277 L800 1312 L800 1320 L739.4 1285 Z" fill="#fdfefc"/>
<path d="M800 1312 L845 1286 L845 1294 L800 1320 Z" fill="#fdfefc"/>
<path d="M739.4 1277 L784.4 1251 L845 1286 L800 1312 Z" fill="#fdfefc"/>
<path d="M843.6 1305 L906 1341 L906 1359 L843.6 1323 Z" fill="#fdfefc"/>
<path d="M906 1341 L941 1321 L941 1339 L906 1359 Z" fill="#fdfefc"/>
<path d="M843.6 1305 L878.3 1285 L940.6 1321 L906 1341 Z" fill="#fdfefc"/>
<path d="M798 1312.8 L846 1340.8 L846 1347.8 L798 1319.8 Z" fill="#fdfefc"/>
<path d="M846.5 1340.8 L895 1312.8 L895 1336.8 L846.5 1347.8 Z" fill="#fdfefc"/>
<path d="M798 1312.8 L846.5 1284.8 L894.9 1312.8 L846.5 1340.8 Z" fill="#fdfefc"/>
<ellipse cx="814.8" cy="1313.8" rx="10" ry="6"/>
<ellipse cx="878.2" cy="1313.2" rx="10" ry="6"/>
<ellipse cx="846.5" cy="1330.5" rx="10" ry="6"/>
<g transform="translate(846.5 1312.2)">
<path d="M-14 -6.5 L-14 1.5 L-6.5 7 L7.5 7 L14 1.5 L14 -6.5 L7.5 -1 L-6.5 -1 Z" fill="#fdfefc"/>
<path d="M-14 -6.5 L-7.5 -12 L6.5 -12 L14 -6.5 L7.5 -1 L-6.5 -1 Z" fill="#fdfefc"/>
<path d="M-6 -1 L-6 7"/>
<path d="M8 -1 L8 7"/>
<path d="M-8.7 -17 L-8.7 -8 A8.7 4.2 0 0 0 8.7 -8 L8.7 -17" fill="#fdfefc"/>
<ellipse cx="0" cy="-17" rx="8.7" ry="4.2" fill="#fdfefc"/>
<path d="M8.2 -11.6 C7.9 -11.4 7.3 -10.7 6.7 -10.3 C6 -9.9 5.2 -9.6 4.4 -9.4 C3.5 -9.1 2.5 -8.9 1.5 -8.9 C0.5 -8.8 -0.5 -8.8 -1.5 -8.9 C-2.5 -8.9 -3.5 -9.1 -4.3 -9.4 C-5.2 -9.6 -6 -9.9 -6.7 -10.3 C-7.3 -10.7 -7.9 -11.4 -8.2 -11.6"/>
</g>
<path d="M929.6 1342 L992 1378 L992 1448 L929.6 1412 Z" fill="#fdfefc"/>
<path d="M992 1378 L1049 1345 L1049 1415 L992 1448 Z" fill="#fdfefc"/>
<path d="M929.6 1342 L986.8 1309 L1049.2 1345 L992 1378 Z" fill="#fdfefc"/>
<path d="M874.3 1361.2 L938 1398 L938 1405 L874.3 1368.2 Z" fill="#fdfefc"/>
<path d="M938 1398 L980 1373.5 L980 1380.5 L938 1405 Z" fill="#fdfefc"/>
<path d="M874.3 1361.2 L916.7 1336.7 L980.4 1373.5 L938 1398 Z" fill="#fdfefc"/>
<path d="M877.5 1359 L920 1334.5"/>
<path d="M981.6 1386 L1044 1422 L1044 1442 L981.6 1406 Z" fill="#fdfefc"/>
<path d="M1044 1422 L1079 1402 L1079 1422 L1044 1442 Z" fill="#fdfefc"/>
<path d="M981.6 1386 L1016.3 1366 L1078.6 1402 L1044 1422 Z" fill="#fdfefc"/>
<path d="M936.8 1392.8 L985 1420.8 L985 1427.8 L936.8 1399.8 Z" fill="#fdfefc"/>
<path d="M985.2 1420.8 L1034 1392.8 L1034 1412.8 L985.2 1427.8 Z" fill="#fdfefc"/>
<path d="M936.8 1392.8 L985.2 1364.8 L1033.7 1392.8 L985.2 1420.8 Z" fill="#fdfefc"/>
<ellipse cx="953.5" cy="1393.8" rx="10" ry="6"/>
<ellipse cx="1017" cy="1393.2" rx="10" ry="6"/>
<ellipse cx="985.2" cy="1410.5" rx="10" ry="6"/>
<g transform="translate(985.2 1392.2)">
<path d="M-14 -6.5 L-14 1.5 L-6.5 7 L7.5 7 L14 1.5 L14 -6.5 L7.5 -1 L-6.5 -1 Z" fill="#fdfefc"/>
<path d="M-14 -6.5 L-7.5 -12 L6.5 -12 L14 -6.5 L7.5 -1 L-6.5 -1 Z" fill="#fdfefc"/>
<path d="M-6 -1 L-6 7"/>
<path d="M8 -1 L8 7"/>
<path d="M-8.7 -17 L-8.7 -8 A8.7 4.2 0 0 0 8.7 -8 L8.7 -17" fill="#fdfefc"/>
<ellipse cx="0" cy="-17" rx="8.7" ry="4.2" fill="#fdfefc"/>
<path d="M8.2 -11.6 C7.9 -11.4 7.3 -10.7 6.7 -10.3 C6 -9.9 5.2 -9.6 4.4 -9.4 C3.5 -9.1 2.5 -8.9 1.5 -8.9 C0.5 -8.8 -0.5 -8.8 -1.5 -8.9 C-2.5 -8.9 -3.5 -9.1 -4.3 -9.4 C-5.2 -9.6 -6 -9.9 -6.7 -10.3 C-7.3 -10.7 -7.9 -11.4 -8.2 -11.6"/>
</g>
<path d="M1051.6 1426 L1114 1462 L1114 1492 L1051.6 1456 Z" fill="#fdfefc"/>
<path d="M1114 1462 L1149 1442 L1149 1472 L1114 1492 Z" fill="#fdfefc"/>
<path d="M1051.6 1426 L1086.3 1406 L1148.6 1442 L1114 1462 Z" fill="#fdfefc"/>
<path d="M1006.2 1432.8 L1055 1460.8 L1055 1467.8 L1006.2 1439.8 Z" fill="#fdfefc"/>
<path d="M1054.7 1460.8 L1103 1432.8 L1103 1456.8 L1054.7 1467.8 Z" fill="#fdfefc"/>
<path d="M1006.2 1432.8 L1054.7 1404.8 L1103.1 1432.8 L1054.7 1460.8 Z" fill="#fdfefc"/>
<ellipse cx="1023" cy="1433.8" rx="10" ry="6"/>
<ellipse cx="1086.4" cy="1433.2" rx="10" ry="6"/>
<ellipse cx="1054.7" cy="1450.5" rx="10" ry="6"/>
<g transform="translate(1054.7 1432.2)">
<path d="M-14 -6.5 L-14 1.5 L-6.5 7 L7.5 7 L14 1.5 L14 -6.5 L7.5 -1 L-6.5 -1 Z" fill="#fdfefc"/>
<path d="M-14 -6.5 L-7.5 -12 L6.5 -12 L14 -6.5 L7.5 -1 L-6.5 -1 Z" fill="#fdfefc"/>
<path d="M-6 -1 L-6 7"/>
<path d="M8 -1 L8 7"/>
<path d="M-8.7 -17 L-8.7 -8 A8.7 4.2 0 0 0 8.7 -8 L8.7 -17" fill="#fdfefc"/>
<ellipse cx="0" cy="-17" rx="8.7" ry="4.2" fill="#fdfefc"/>
<path d="M8.2 -11.6 C7.9 -11.4 7.3 -10.7 6.7 -10.3 C6 -9.9 5.2 -9.6 4.4 -9.4 C3.5 -9.1 2.5 -8.9 1.5 -8.9 C0.5 -8.8 -0.5 -8.8 -1.5 -8.9 C-2.5 -8.9 -3.5 -9.1 -4.3 -9.4 C-5.2 -9.6 -6 -9.9 -6.7 -10.3 C-7.3 -10.7 -7.9 -11.4 -8.2 -11.6"/>
</g>
<path d="M1187 1490 L1230 1465 L1230 1535 L1187 1560 Z" fill="#fdfefc"/>
<path d="M60.5 983.8 L1092 1579.5 L1092 1690.7 L60.5 1095 Z" fill="#fdfefc"/>
<path d="M1092.4 1579.5 L1169 1535.3 L1169 1646.5 L1092.4 1690.7 Z" fill="#fdfefc"/>
<path d="M60.5 983.8 L137 939.6 L1168.9 1535.3 L1092.4 1579.5 Z" fill="#fdfefc"/>
<path d="M1080 1686 L1155 1643"/>
<path d="M175.9 995.3 C176.1 995.7 177.1 996.8 177.3 997.6 C177.6 998.4 177.5 999.3 177.3 1000.1 C177 1000.9 176.4 1001.7 175.7 1002.4 C174.9 1003.1 173.9 1003.8 172.8 1004.3 C171.7 1004.8 170.3 1005.2 168.9 1005.4 C167.6 1005.6 166.1 1005.7 164.7 1005.7 C163.3 1005.6 161.8 1005.4 160.5 1005 C159.2 1004.7 158 1004.2 157 1003.6 C156 1003 155.1 1002.3 154.5 1001.6 C154 1000.8 153.6 1000 153.5 999.2 C153.4 998.3 153.6 997.5 154 996.7 C154.5 995.9 155.2 995.1 156 994.5 C156.9 993.8 158.1 993.3 159.3 992.8 C160.5 992.4 161.9 992.1 163.3 991.9 C164.7 991.8 166.9 991.9 167.6 991.9"/>
<path d="M179.6 984.7 C179.4 984.8 178.9 985.2 178.4 985.4 C178 985.5 177.4 985.6 176.9 985.7 C176.4 985.7 175.8 985.7 175.3 985.6 C174.8 985.6 174.3 985.4 173.9 985.3 C173.4 985.1 173 984.9 172.7 984.6 C172.4 984.3 172.1 984 172 983.7 C171.9 983.4 171.8 983.1 171.9 982.8 C171.9 982.4 172.1 982.1 172.3 981.8 C172.5 981.5 172.8 981.3 173.2 981 C173.6 980.8 174.1 980.6 174.5 980.5 C175 980.4 175.6 980.3 176.1 980.3 C176.6 980.3 177.2 980.3 177.7 980.4 C178.1 980.5 178.6 980.7 179 980.9 C179.4 981.1 179.9 981.5 180.1 981.6"/>
<path d="M196.4 993.7 C196.2 993.8 195.6 994.2 195.2 994.4 C194.7 994.5 194.2 994.6 193.7 994.7 C193.1 994.7 192.6 994.7 192.1 994.6 C191.6 994.6 191 994.4 190.6 994.3 C190.2 994.1 189.8 993.9 189.5 993.6 C189.1 993.3 188.9 993 188.8 992.7 C188.6 992.4 188.6 992.1 188.6 991.8 C188.7 991.4 188.8 991.1 189 990.8 C189.3 990.5 189.6 990.3 190 990 C190.3 989.8 190.8 989.6 191.3 989.5 C191.8 989.4 192.3 989.3 192.8 989.3 C193.4 989.3 193.9 989.3 194.4 989.4 C194.9 989.5 195.4 989.7 195.8 989.9 C196.2 990.1 196.6 990.5 196.8 990.6"/>
<path d="M140.9 1006.7 C140.7 1006.8 140.1 1007.2 139.7 1007.4 C139.2 1007.5 138.7 1007.6 138.2 1007.7 C137.6 1007.7 137.1 1007.7 136.6 1007.6 C136.1 1007.6 135.5 1007.4 135.1 1007.3 C134.7 1007.1 134.3 1006.9 134 1006.6 C133.6 1006.3 133.4 1006 133.3 1005.7 C133.1 1005.4 133.1 1005.1 133.1 1004.8 C133.2 1004.4 133.3 1004.1 133.5 1003.8 C133.8 1003.5 134.1 1003.3 134.5 1003 C134.8 1002.8 135.3 1002.6 135.8 1002.5 C136.3 1002.4 136.8 1002.3 137.3 1002.3 C137.9 1002.3 138.4 1002.3 138.9 1002.4 C139.4 1002.5 139.9 1002.7 140.3 1002.9 C140.7 1003.1 141.1 1003.5 141.3 1003.6"/>
<path d="M157.9 1016 C157.7 1016.1 157.1 1016.4 156.7 1016.6 C156.2 1016.8 155.7 1016.9 155.2 1016.9 C154.6 1017 154.1 1017 153.6 1016.9 C153.1 1016.8 152.5 1016.7 152.1 1016.5 C151.7 1016.3 151.3 1016.1 151 1015.9 C150.6 1015.6 150.4 1015.3 150.3 1015 C150.1 1014.7 150.1 1014.3 150.1 1014 C150.2 1013.7 150.3 1013.4 150.5 1013.1 C150.8 1012.8 151.1 1012.5 151.5 1012.3 C151.8 1012.1 152.3 1011.9 152.8 1011.8 C153.3 1011.6 153.8 1011.6 154.3 1011.6 C154.9 1011.5 155.4 1011.6 155.9 1011.7 C156.4 1011.8 156.9 1012 157.3 1012.2 C157.7 1012.4 158.1 1012.8 158.3 1012.9"/>
<path d="M245 1035.2 C245.2 1035.6 246.2 1036.7 246.4 1037.5 C246.7 1038.3 246.6 1039.2 246.4 1040 C246.1 1040.8 245.5 1041.6 244.8 1042.3 C244 1043 243 1043.7 241.9 1044.2 C240.8 1044.7 239.4 1045.1 238 1045.3 C236.7 1045.5 235.2 1045.6 233.8 1045.6 C232.4 1045.5 230.9 1045.3 229.6 1044.9 C228.3 1044.6 227.1 1044.1 226.1 1043.5 C225.1 1042.9 224.2 1042.2 223.6 1041.5 C223.1 1040.7 222.7 1039.9 222.6 1039.1 C222.5 1038.2 222.7 1037.4 223.1 1036.6 C223.6 1035.8 224.3 1035 225.1 1034.4 C226 1033.7 227.2 1033.2 228.4 1032.7 C229.6 1032.3 231 1032 232.4 1031.8 C233.8 1031.7 236 1031.8 236.7 1031.8"/>
<path d="M248.7 1024.6 C248.5 1024.7 248 1025.1 247.5 1025.3 C247.1 1025.4 246.5 1025.5 246 1025.6 C245.5 1025.6 244.9 1025.6 244.4 1025.5 C243.9 1025.5 243.4 1025.3 243 1025.2 C242.5 1025 242.1 1024.8 241.8 1024.5 C241.5 1024.2 241.2 1023.9 241.1 1023.6 C241 1023.3 240.9 1023 241 1022.7 C241 1022.3 241.2 1022 241.4 1021.7 C241.6 1021.4 241.9 1021.2 242.3 1020.9 C242.7 1020.7 243.2 1020.5 243.6 1020.4 C244.1 1020.3 244.7 1020.2 245.2 1020.2 C245.7 1020.2 246.3 1020.2 246.8 1020.3 C247.2 1020.4 247.7 1020.6 248.1 1020.8 C248.5 1021 249 1021.4 249.2 1021.6"/>
<path d="M265.5 1033.6 C265.3 1033.7 264.7 1034.1 264.3 1034.3 C263.8 1034.4 263.3 1034.5 262.8 1034.6 C262.2 1034.6 261.7 1034.6 261.2 1034.5 C260.7 1034.5 260.1 1034.3 259.7 1034.2 C259.3 1034 258.9 1033.8 258.6 1033.5 C258.2 1033.2 258 1032.9 257.9 1032.6 C257.7 1032.3 257.7 1032 257.7 1031.7 C257.8 1031.3 257.9 1031 258.1 1030.7 C258.4 1030.4 258.7 1030.2 259.1 1029.9 C259.4 1029.7 259.9 1029.5 260.4 1029.4 C260.9 1029.3 261.4 1029.2 261.9 1029.2 C262.5 1029.2 263 1029.2 263.5 1029.3 C264 1029.4 264.5 1029.6 264.9 1029.8 C265.3 1030 265.7 1030.4 265.9 1030.6"/>
<path d="M210 1046.6 C209.8 1046.7 209.2 1047.1 208.8 1047.3 C208.3 1047.4 207.8 1047.5 207.3 1047.6 C206.7 1047.6 206.2 1047.6 205.7 1047.5 C205.2 1047.5 204.6 1047.3 204.2 1047.2 C203.8 1047 203.4 1046.8 203.1 1046.5 C202.7 1046.2 202.5 1045.9 202.4 1045.6 C202.2 1045.3 202.2 1045 202.2 1044.7 C202.3 1044.3 202.4 1044 202.6 1043.7 C202.9 1043.4 203.2 1043.2 203.6 1042.9 C203.9 1042.7 204.4 1042.5 204.9 1042.4 C205.4 1042.3 205.9 1042.2 206.4 1042.2 C207 1042.2 207.5 1042.2 208 1042.3 C208.5 1042.4 209 1042.6 209.4 1042.8 C209.8 1043 210.2 1043.4 210.4 1043.6"/>
<path d="M227 1055.9 C226.8 1056 226.2 1056.3 225.8 1056.5 C225.3 1056.7 224.8 1056.8 224.3 1056.8 C223.7 1056.9 223.2 1056.9 222.7 1056.8 C222.2 1056.7 221.6 1056.6 221.2 1056.4 C220.8 1056.2 220.4 1056 220.1 1055.8 C219.7 1055.5 219.5 1055.2 219.4 1054.9 C219.2 1054.6 219.2 1054.2 219.2 1053.9 C219.3 1053.6 219.4 1053.3 219.6 1053 C219.9 1052.7 220.2 1052.4 220.6 1052.2 C220.9 1052 221.4 1051.8 221.9 1051.7 C222.4 1051.5 222.9 1051.5 223.4 1051.5 C224 1051.4 224.5 1051.5 225 1051.6 C225.5 1051.7 226 1051.9 226.4 1052.1 C226.8 1052.3 227.2 1052.7 227.4 1052.8"/>
<path d="M317.5 1074 C317.8 1074.5 319.1 1076 319.4 1077.1 C319.7 1078.1 319.7 1079.3 319.3 1080.4 C318.9 1081.4 318.2 1082.5 317.2 1083.4 C316.2 1084.3 314.8 1085.2 313.4 1085.9 C311.9 1086.5 310.1 1087 308.3 1087.4 C306.5 1087.7 304.5 1087.8 302.6 1087.7 C300.7 1087.6 298.8 1087.4 297.1 1086.9 C295.4 1086.5 293.7 1085.8 292.4 1085 C291.1 1084.2 289.9 1083.3 289.2 1082.3 C288.4 1081.3 287.9 1080.2 287.8 1079.1 C287.7 1078 287.9 1076.8 288.5 1075.8 C289.1 1074.8 290 1073.7 291.2 1072.9 C292.3 1072 293.8 1071.3 295.4 1070.7 C297 1070.1 298.9 1069.7 300.8 1069.5 C302.6 1069.3 305.5 1069.5 306.5 1069.5"/>
<path d="M322.1 1059.7 C321.9 1059.9 321.1 1060.4 320.4 1060.6 C319.8 1060.8 319.1 1060.9 318.4 1061 C317.6 1061.1 316.9 1061.1 316.2 1061 C315.5 1060.9 314.7 1060.7 314.1 1060.5 C313.5 1060.2 313 1059.9 312.5 1059.5 C312.1 1059.2 311.8 1058.7 311.6 1058.3 C311.4 1057.9 311.3 1057.4 311.3 1057 C311.4 1056.5 311.6 1056.1 311.9 1055.7 C312.2 1055.3 312.7 1054.9 313.2 1054.6 C313.8 1054.3 314.4 1054 315.1 1053.8 C315.7 1053.7 316.5 1053.6 317.2 1053.6 C317.9 1053.5 318.7 1053.6 319.4 1053.7 C320.1 1053.9 320.8 1054.1 321.3 1054.4 C321.9 1054.7 322.5 1055.3 322.8 1055.4"/>
<path d="M344.1 1072.7 C343.9 1072.9 343.1 1073.4 342.4 1073.6 C341.8 1073.8 341.1 1073.9 340.4 1074 C339.6 1074.1 338.9 1074.1 338.2 1074 C337.5 1073.9 336.7 1073.7 336.1 1073.5 C335.5 1073.2 335 1072.9 334.5 1072.5 C334.1 1072.2 333.8 1071.7 333.6 1071.3 C333.4 1070.9 333.3 1070.4 333.3 1070 C333.4 1069.5 333.6 1069.1 333.9 1068.7 C334.2 1068.3 334.7 1067.9 335.2 1067.6 C335.8 1067.3 336.4 1067 337.1 1066.8 C337.7 1066.7 338.5 1066.6 339.2 1066.6 C339.9 1066.5 340.7 1066.6 341.4 1066.7 C342.1 1066.9 342.8 1067.1 343.3 1067.4 C343.9 1067.7 344.5 1068.3 344.8 1068.4"/>
<path d="M270.9 1089.2 C270.6 1089.4 269.8 1089.9 269.2 1090.1 C268.6 1090.3 267.8 1090.4 267.1 1090.5 C266.4 1090.6 265.6 1090.6 264.9 1090.5 C264.2 1090.4 263.5 1090.2 262.9 1090 C262.3 1089.7 261.7 1089.4 261.3 1089 C260.8 1088.7 260.5 1088.2 260.3 1087.8 C260.1 1087.4 260 1086.9 260.1 1086.5 C260.2 1086 260.4 1085.6 260.7 1085.2 C261 1084.8 261.5 1084.4 262 1084.1 C262.5 1083.8 263.2 1083.5 263.8 1083.3 C264.5 1083.2 265.2 1083.1 266 1083.1 C266.7 1083 267.5 1083.1 268.2 1083.2 C268.8 1083.4 269.5 1083.6 270.1 1083.9 C270.6 1084.2 271.3 1084.8 271.5 1084.9"/>
<path d="M293.4 1102.2 C293.1 1102.4 292.3 1102.9 291.7 1103.1 C291.1 1103.3 290.3 1103.4 289.6 1103.5 C288.9 1103.6 288.1 1103.6 287.4 1103.5 C286.7 1103.4 286 1103.2 285.4 1103 C284.8 1102.7 284.2 1102.4 283.8 1102 C283.3 1101.7 283 1101.2 282.8 1100.8 C282.6 1100.4 282.5 1099.9 282.6 1099.5 C282.7 1099 282.9 1098.6 283.2 1098.2 C283.5 1097.8 284 1097.4 284.5 1097.1 C285 1096.8 285.7 1096.5 286.3 1096.3 C287 1096.2 287.7 1096.1 288.5 1096.1 C289.2 1096 290 1096.1 290.7 1096.2 C291.3 1096.4 292 1096.6 292.6 1096.9 C293.1 1097.2 293.8 1097.8 294 1097.9"/>
<path d="M386.6 1113.9 C386.9 1114.4 388.2 1115.9 388.5 1117 C388.8 1118 388.8 1119.2 388.4 1120.3 C388 1121.3 387.3 1122.4 386.3 1123.3 C385.3 1124.2 383.9 1125.1 382.5 1125.8 C381 1126.4 379.2 1126.9 377.4 1127.3 C375.6 1127.6 373.6 1127.7 371.7 1127.6 C369.8 1127.5 367.9 1127.3 366.2 1126.8 C364.5 1126.4 362.8 1125.7 361.5 1124.9 C360.2 1124.1 359 1123.2 358.3 1122.2 C357.5 1121.2 357 1120.1 356.9 1119 C356.8 1117.9 357 1116.7 357.6 1115.7 C358.2 1114.7 359.1 1113.6 360.3 1112.8 C361.4 1111.9 362.9 1111.2 364.5 1110.6 C366.1 1110 368 1109.6 369.9 1109.4 C371.7 1109.2 374.6 1109.4 375.6 1109.4"/>
<path d="M391.2 1099.6 C391 1099.8 390.2 1100.3 389.5 1100.5 C388.9 1100.7 388.2 1100.8 387.5 1100.9 C386.7 1101 386 1101 385.3 1100.9 C384.6 1100.8 383.8 1100.6 383.2 1100.4 C382.6 1100.1 382.1 1099.8 381.6 1099.4 C381.2 1099.1 380.9 1098.6 380.7 1098.2 C380.5 1097.8 380.4 1097.3 380.4 1096.9 C380.5 1096.4 380.7 1096 381 1095.6 C381.3 1095.2 381.8 1094.8 382.3 1094.5 C382.9 1094.2 383.5 1093.9 384.2 1093.7 C384.8 1093.6 385.6 1093.5 386.3 1093.5 C387 1093.4 387.8 1093.5 388.5 1093.6 C389.2 1093.8 389.9 1094 390.4 1094.3 C391 1094.6 391.6 1095.2 391.9 1095.3"/>
<path d="M413.2 1112.6 C413 1112.8 412.2 1113.3 411.5 1113.5 C410.9 1113.7 410.2 1113.8 409.5 1113.9 C408.7 1114 408 1114 407.3 1113.9 C406.6 1113.8 405.8 1113.6 405.2 1113.4 C404.6 1113.1 404.1 1112.8 403.6 1112.4 C403.2 1112.1 402.9 1111.6 402.7 1111.2 C402.5 1110.8 402.4 1110.3 402.4 1109.9 C402.5 1109.4 402.7 1109 403 1108.6 C403.3 1108.2 403.8 1107.8 404.3 1107.5 C404.9 1107.2 405.5 1106.9 406.2 1106.7 C406.8 1106.6 407.6 1106.5 408.3 1106.5 C409 1106.4 409.8 1106.5 410.5 1106.6 C411.2 1106.8 411.9 1107 412.4 1107.3 C413 1107.6 413.6 1108.2 413.9 1108.3"/>
<path d="M340 1129.1 C339.7 1129.3 338.9 1129.8 338.3 1130 C337.7 1130.2 336.9 1130.3 336.2 1130.4 C335.5 1130.5 334.7 1130.5 334 1130.4 C333.3 1130.3 332.6 1130.1 332 1129.9 C331.4 1129.6 330.8 1129.3 330.4 1128.9 C329.9 1128.6 329.6 1128.1 329.4 1127.7 C329.2 1127.3 329.1 1126.8 329.2 1126.4 C329.3 1125.9 329.5 1125.5 329.8 1125.1 C330.1 1124.7 330.6 1124.3 331.1 1124 C331.6 1123.7 332.3 1123.4 332.9 1123.2 C333.6 1123.1 334.3 1123 335.1 1123 C335.8 1122.9 336.6 1123 337.3 1123.1 C337.9 1123.3 338.6 1123.5 339.2 1123.8 C339.7 1124.1 340.4 1124.7 340.6 1124.8"/>
<path d="M362.5 1142.1 C362.2 1142.3 361.4 1142.8 360.8 1143 C360.2 1143.2 359.4 1143.3 358.7 1143.4 C358 1143.5 357.2 1143.5 356.5 1143.4 C355.8 1143.3 355.1 1143.1 354.5 1142.9 C353.9 1142.6 353.3 1142.3 352.9 1141.9 C352.4 1141.6 352.1 1141.1 351.9 1140.7 C351.7 1140.3 351.6 1139.8 351.7 1139.4 C351.8 1138.9 352 1138.5 352.3 1138.1 C352.6 1137.7 353.1 1137.3 353.6 1137 C354.1 1136.7 354.8 1136.4 355.4 1136.2 C356.1 1136.1 356.8 1136 357.6 1136 C358.3 1135.9 359.1 1136 359.8 1136.1 C360.4 1136.3 361.1 1136.5 361.7 1136.8 C362.2 1137.1 362.9 1137.7 363.1 1137.8"/>
<path d="M452.3 1154.9 C452.5 1155.3 453.5 1156.4 453.7 1157.2 C454 1158 453.9 1158.9 453.7 1159.7 C453.4 1160.5 452.8 1161.3 452.1 1162 C451.3 1162.7 450.3 1163.4 449.2 1163.9 C448.1 1164.4 446.7 1164.8 445.3 1165 C444 1165.2 442.5 1165.3 441.1 1165.3 C439.7 1165.2 438.2 1165 436.9 1164.6 C435.6 1164.3 434.4 1163.8 433.4 1163.2 C432.4 1162.6 431.5 1161.9 430.9 1161.2 C430.4 1160.4 430 1159.6 429.9 1158.8 C429.8 1157.9 430 1157.1 430.4 1156.3 C430.9 1155.5 431.6 1154.7 432.4 1154.1 C433.3 1153.4 434.5 1152.9 435.7 1152.4 C436.9 1152 438.3 1151.7 439.7 1151.5 C441.1 1151.4 443.3 1151.5 444 1151.5"/>
<path d="M456 1144.3 C455.8 1144.4 455.3 1144.8 454.8 1145 C454.4 1145.1 453.8 1145.2 453.3 1145.3 C452.8 1145.3 452.2 1145.3 451.7 1145.2 C451.2 1145.2 450.7 1145 450.3 1144.9 C449.8 1144.7 449.4 1144.5 449.1 1144.2 C448.8 1143.9 448.5 1143.6 448.4 1143.3 C448.3 1143 448.2 1142.7 448.3 1142.4 C448.3 1142 448.5 1141.7 448.7 1141.4 C448.9 1141.1 449.2 1140.9 449.6 1140.6 C450 1140.4 450.5 1140.2 450.9 1140.1 C451.4 1140 452 1139.9 452.5 1139.9 C453 1139.9 453.6 1139.9 454.1 1140 C454.5 1140.1 455 1140.3 455.4 1140.5 C455.8 1140.7 456.3 1141.1 456.5 1141.2"/>
<path d="M472.8 1153.3 C472.6 1153.4 472 1153.8 471.6 1154 C471.1 1154.1 470.6 1154.2 470.1 1154.3 C469.5 1154.3 469 1154.3 468.5 1154.2 C468 1154.2 467.4 1154 467 1153.9 C466.6 1153.7 466.2 1153.5 465.9 1153.2 C465.5 1152.9 465.3 1152.6 465.2 1152.3 C465 1152 465 1151.7 465 1151.4 C465.1 1151 465.2 1150.7 465.4 1150.4 C465.7 1150.1 466 1149.9 466.4 1149.6 C466.7 1149.4 467.2 1149.2 467.7 1149.1 C468.2 1149 468.7 1148.9 469.2 1148.9 C469.8 1148.9 470.3 1148.9 470.8 1149 C471.3 1149.1 471.8 1149.3 472.2 1149.5 C472.6 1149.7 473 1150.1 473.2 1150.2"/>
<path d="M417.3 1166.3 C417.1 1166.4 416.5 1166.8 416.1 1167 C415.6 1167.1 415.1 1167.2 414.6 1167.3 C414 1167.3 413.5 1167.3 413 1167.2 C412.5 1167.2 411.9 1167 411.5 1166.9 C411.1 1166.7 410.7 1166.5 410.4 1166.2 C410 1165.9 409.8 1165.6 409.7 1165.3 C409.5 1165 409.5 1164.7 409.5 1164.4 C409.6 1164 409.7 1163.7 409.9 1163.4 C410.2 1163.1 410.5 1162.9 410.9 1162.6 C411.2 1162.4 411.7 1162.2 412.2 1162.1 C412.7 1162 413.2 1161.9 413.7 1161.9 C414.3 1161.9 414.8 1161.9 415.3 1162 C415.8 1162.1 416.3 1162.3 416.7 1162.5 C417.1 1162.7 417.5 1163.1 417.7 1163.2"/>
<path d="M434.3 1175.6 C434.1 1175.7 433.5 1176 433.1 1176.2 C432.6 1176.4 432.1 1176.5 431.6 1176.5 C431 1176.6 430.5 1176.6 430 1176.5 C429.5 1176.4 428.9 1176.3 428.5 1176.1 C428.1 1175.9 427.7 1175.7 427.4 1175.5 C427 1175.2 426.8 1174.9 426.7 1174.6 C426.5 1174.3 426.5 1173.9 426.5 1173.6 C426.6 1173.3 426.7 1173 426.9 1172.7 C427.2 1172.4 427.5 1172.1 427.9 1171.9 C428.2 1171.7 428.7 1171.5 429.2 1171.4 C429.7 1171.2 430.2 1171.2 430.7 1171.2 C431.3 1171.1 431.8 1171.2 432.3 1171.3 C432.8 1171.4 433.3 1171.6 433.7 1171.8 C434.1 1172 434.5 1172.4 434.7 1172.5"/>
<path d="M524.8 1193.7 C525.1 1194.2 526.4 1195.7 526.7 1196.8 C527 1197.8 527 1199 526.6 1200.1 C526.2 1201.1 525.5 1202.2 524.5 1203.1 C523.5 1204 522.1 1204.9 520.7 1205.6 C519.2 1206.2 517.4 1206.7 515.6 1207.1 C513.8 1207.4 511.8 1207.5 509.9 1207.4 C508 1207.3 506.1 1207.1 504.4 1206.6 C502.7 1206.2 501 1205.5 499.7 1204.7 C498.4 1203.9 497.2 1203 496.5 1202 C495.7 1201 495.2 1199.9 495.1 1198.8 C495 1197.7 495.2 1196.5 495.8 1195.5 C496.4 1194.5 497.3 1193.4 498.5 1192.6 C499.6 1191.7 501.1 1191 502.7 1190.4 C504.3 1189.8 506.2 1189.4 508.1 1189.2 C509.9 1189 512.8 1189.2 513.8 1189.2"/>
<path d="M529.4 1179.4 C529.2 1179.6 528.4 1180.1 527.7 1180.3 C527.1 1180.5 526.4 1180.6 525.7 1180.7 C524.9 1180.8 524.2 1180.8 523.5 1180.7 C522.8 1180.6 522 1180.4 521.4 1180.2 C520.8 1179.9 520.3 1179.6 519.8 1179.2 C519.4 1178.9 519.1 1178.4 518.9 1178 C518.7 1177.6 518.6 1177.1 518.6 1176.7 C518.7 1176.2 518.9 1175.8 519.2 1175.4 C519.5 1175 520 1174.6 520.5 1174.3 C521.1 1174 521.7 1173.7 522.4 1173.5 C523 1173.4 523.8 1173.3 524.5 1173.3 C525.2 1173.2 526 1173.3 526.7 1173.4 C527.4 1173.6 528.1 1173.8 528.6 1174.1 C529.2 1174.4 529.8 1175 530.1 1175.1"/>
<path d="M551.4 1192.4 C551.2 1192.6 550.4 1193.1 549.7 1193.3 C549.1 1193.5 548.4 1193.6 547.7 1193.7 C546.9 1193.8 546.2 1193.8 545.5 1193.7 C544.8 1193.6 544 1193.4 543.4 1193.2 C542.8 1192.9 542.3 1192.6 541.8 1192.2 C541.4 1191.9 541.1 1191.4 540.9 1191 C540.7 1190.6 540.6 1190.1 540.6 1189.7 C540.7 1189.2 540.9 1188.8 541.2 1188.4 C541.5 1188 542 1187.6 542.5 1187.3 C543.1 1187 543.7 1186.7 544.4 1186.5 C545 1186.4 545.8 1186.3 546.5 1186.3 C547.2 1186.2 548 1186.3 548.7 1186.4 C549.4 1186.6 550.1 1186.8 550.6 1187.1 C551.2 1187.4 551.8 1188 552.1 1188.1"/>
<path d="M478.2 1208.9 C477.9 1209.1 477.1 1209.6 476.5 1209.8 C475.9 1210 475.1 1210.1 474.4 1210.2 C473.7 1210.3 472.9 1210.3 472.2 1210.2 C471.5 1210.1 470.8 1209.9 470.2 1209.7 C469.6 1209.4 469 1209.1 468.6 1208.7 C468.1 1208.4 467.8 1207.9 467.6 1207.5 C467.4 1207.1 467.3 1206.6 467.4 1206.2 C467.5 1205.7 467.7 1205.3 468 1204.9 C468.3 1204.5 468.8 1204.1 469.3 1203.8 C469.8 1203.5 470.5 1203.2 471.1 1203 C471.8 1202.9 472.5 1202.8 473.3 1202.8 C474 1202.7 474.8 1202.8 475.5 1202.9 C476.1 1203.1 476.8 1203.3 477.4 1203.6 C477.9 1203.9 478.6 1204.5 478.8 1204.6"/>
<path d="M500.7 1221.9 C500.4 1222.1 499.6 1222.6 499 1222.8 C498.4 1223 497.6 1223.1 496.9 1223.2 C496.2 1223.3 495.4 1223.3 494.7 1223.2 C494 1223.1 493.3 1222.9 492.7 1222.7 C492.1 1222.4 491.5 1222.1 491.1 1221.7 C490.6 1221.4 490.3 1220.9 490.1 1220.5 C489.9 1220.1 489.8 1219.6 489.9 1219.2 C490 1218.7 490.2 1218.3 490.5 1217.9 C490.8 1217.5 491.3 1217.1 491.8 1216.8 C492.3 1216.5 493 1216.2 493.6 1216 C494.3 1215.9 495 1215.8 495.8 1215.8 C496.5 1215.7 497.3 1215.8 498 1215.9 C498.6 1216.1 499.3 1216.3 499.9 1216.6 C500.4 1216.9 501.1 1217.5 501.3 1217.6"/>
<path d="M512 1163.2 L512 1181.2" stroke-width="1.2"/>
<path d="M512 1188.2 L512 1208.2" stroke-width="1.2"/>
<path d="M512 1212.2 L512 1224.2" stroke-width="1.2"/>
<path d="M593.9 1233.6 C594.2 1234.1 595.5 1235.6 595.8 1236.7 C596.1 1237.7 596.1 1238.9 595.7 1240 C595.3 1241 594.6 1242.1 593.6 1243 C592.6 1243.9 591.2 1244.8 589.8 1245.5 C588.3 1246.1 586.5 1246.6 584.7 1247 C582.9 1247.3 580.9 1247.4 579 1247.3 C577.1 1247.2 575.2 1247 573.5 1246.5 C571.8 1246.1 570.1 1245.4 568.8 1244.6 C567.5 1243.8 566.3 1242.9 565.6 1241.9 C564.8 1240.9 564.3 1239.8 564.2 1238.7 C564.1 1237.6 564.3 1236.4 564.9 1235.4 C565.5 1234.4 566.4 1233.3 567.6 1232.5 C568.7 1231.6 570.2 1230.9 571.8 1230.3 C573.4 1229.7 575.3 1229.3 577.2 1229.1 C579 1228.9 581.9 1229.1 582.9 1229.1"/>
<path d="M598.5 1219.3 C598.3 1219.5 597.5 1220 596.8 1220.2 C596.2 1220.4 595.5 1220.5 594.8 1220.6 C594 1220.7 593.3 1220.7 592.6 1220.6 C591.9 1220.5 591.1 1220.3 590.5 1220.1 C589.9 1219.8 589.4 1219.5 588.9 1219.1 C588.5 1218.8 588.2 1218.3 588 1217.9 C587.8 1217.5 587.7 1217 587.7 1216.6 C587.8 1216.1 588 1215.7 588.3 1215.3 C588.6 1214.9 589.1 1214.5 589.6 1214.2 C590.2 1213.9 590.8 1213.6 591.5 1213.4 C592.1 1213.3 592.9 1213.2 593.6 1213.2 C594.3 1213.1 595.1 1213.2 595.8 1213.3 C596.5 1213.5 597.2 1213.7 597.7 1214 C598.3 1214.3 598.9 1214.9 599.2 1215"/>
<path d="M620.5 1232.3 C620.3 1232.5 619.5 1233 618.8 1233.2 C618.2 1233.4 617.5 1233.5 616.8 1233.6 C616 1233.7 615.3 1233.7 614.6 1233.6 C613.9 1233.5 613.1 1233.3 612.5 1233.1 C611.9 1232.8 611.4 1232.5 610.9 1232.1 C610.5 1231.8 610.2 1231.3 610 1230.9 C609.8 1230.5 609.7 1230 609.7 1229.6 C609.8 1229.1 610 1228.7 610.3 1228.3 C610.6 1227.9 611.1 1227.5 611.6 1227.2 C612.2 1226.9 612.8 1226.6 613.5 1226.4 C614.1 1226.3 614.9 1226.2 615.6 1226.2 C616.3 1226.1 617.1 1226.2 617.8 1226.3 C618.5 1226.5 619.2 1226.7 619.7 1227 C620.3 1227.3 620.9 1227.9 621.2 1228"/>
<path d="M547.3 1248.8 C547 1249 546.2 1249.5 545.6 1249.7 C545 1249.9 544.2 1250 543.5 1250.1 C542.8 1250.2 542 1250.2 541.3 1250.1 C540.6 1250 539.9 1249.8 539.3 1249.6 C538.7 1249.3 538.1 1249 537.7 1248.6 C537.2 1248.3 536.9 1247.8 536.7 1247.4 C536.5 1247 536.4 1246.5 536.5 1246.1 C536.6 1245.6 536.8 1245.2 537.1 1244.8 C537.4 1244.4 537.9 1244 538.4 1243.7 C538.9 1243.4 539.6 1243.1 540.2 1242.9 C540.9 1242.8 541.6 1242.7 542.4 1242.7 C543.1 1242.6 543.9 1242.7 544.6 1242.8 C545.2 1243 545.9 1243.2 546.5 1243.5 C547 1243.8 547.7 1244.4 547.9 1244.5"/>
<path d="M569.8 1261.8 C569.5 1262 568.7 1262.5 568.1 1262.7 C567.5 1262.9 566.7 1263 566 1263.1 C565.3 1263.2 564.5 1263.2 563.8 1263.1 C563.1 1263 562.4 1262.8 561.8 1262.6 C561.2 1262.3 560.6 1262 560.2 1261.6 C559.7 1261.3 559.4 1260.8 559.2 1260.4 C559 1260 558.9 1259.5 559 1259.1 C559.1 1258.6 559.3 1258.2 559.6 1257.8 C559.9 1257.4 560.4 1257 560.9 1256.7 C561.4 1256.4 562.1 1256.1 562.7 1255.9 C563.4 1255.8 564.1 1255.7 564.9 1255.7 C565.6 1255.6 566.4 1255.7 567.1 1255.8 C567.7 1256 568.4 1256.2 569 1256.5 C569.5 1256.8 570.2 1257.4 570.4 1257.5"/>
<path d="M663 1273.5 C663.3 1274 664.6 1275.5 664.9 1276.6 C665.2 1277.6 665.2 1278.8 664.8 1279.9 C664.4 1280.9 663.7 1282 662.7 1282.9 C661.7 1283.8 660.3 1284.7 658.9 1285.4 C657.4 1286 655.6 1286.5 653.8 1286.9 C652 1287.2 650 1287.3 648.1 1287.2 C646.2 1287.1 644.3 1286.9 642.6 1286.4 C640.9 1286 639.2 1285.3 637.9 1284.5 C636.6 1283.7 635.4 1282.8 634.7 1281.8 C633.9 1280.8 633.4 1279.7 633.3 1278.6 C633.2 1277.5 633.4 1276.3 634 1275.3 C634.6 1274.3 635.5 1273.2 636.7 1272.4 C637.8 1271.5 639.3 1270.8 640.9 1270.2 C642.5 1269.6 644.4 1269.2 646.3 1269 C648.1 1268.8 651 1269 652 1269"/>
<path d="M667.6 1259.2 C667.4 1259.4 666.6 1259.9 665.9 1260.1 C665.3 1260.3 664.6 1260.4 663.9 1260.5 C663.1 1260.6 662.4 1260.6 661.7 1260.5 C661 1260.4 660.2 1260.2 659.6 1260 C659 1259.7 658.5 1259.4 658 1259 C657.6 1258.7 657.3 1258.2 657.1 1257.8 C656.9 1257.4 656.8 1256.9 656.8 1256.5 C656.9 1256 657.1 1255.6 657.4 1255.2 C657.7 1254.8 658.2 1254.4 658.7 1254.1 C659.3 1253.8 659.9 1253.5 660.6 1253.3 C661.2 1253.2 662 1253.1 662.7 1253.1 C663.4 1253 664.2 1253.1 664.9 1253.2 C665.6 1253.4 666.3 1253.6 666.8 1253.9 C667.4 1254.2 668 1254.8 668.3 1254.9"/>
<path d="M689.6 1272.2 C689.4 1272.4 688.6 1272.9 687.9 1273.1 C687.3 1273.3 686.6 1273.4 685.9 1273.5 C685.1 1273.6 684.4 1273.6 683.7 1273.5 C683 1273.4 682.2 1273.2 681.6 1273 C681 1272.7 680.5 1272.4 680 1272 C679.6 1271.7 679.3 1271.2 679.1 1270.8 C678.9 1270.4 678.8 1269.9 678.8 1269.5 C678.9 1269 679.1 1268.6 679.4 1268.2 C679.7 1267.8 680.2 1267.4 680.7 1267.1 C681.3 1266.8 681.9 1266.5 682.6 1266.3 C683.2 1266.2 684 1266.1 684.7 1266.1 C685.4 1266 686.2 1266.1 686.9 1266.2 C687.6 1266.4 688.3 1266.6 688.8 1266.9 C689.4 1267.2 690 1267.8 690.3 1267.9"/>
<path d="M616.4 1288.7 C616.1 1288.9 615.3 1289.4 614.7 1289.6 C614.1 1289.8 613.3 1289.9 612.6 1290 C611.9 1290.1 611.1 1290.1 610.4 1290 C609.7 1289.9 609 1289.7 608.4 1289.5 C607.8 1289.2 607.2 1288.9 606.8 1288.5 C606.3 1288.2 606 1287.7 605.8 1287.3 C605.6 1286.9 605.5 1286.4 605.6 1286 C605.7 1285.5 605.9 1285.1 606.2 1284.7 C606.5 1284.3 607 1283.9 607.5 1283.6 C608 1283.3 608.7 1283 609.3 1282.8 C610 1282.7 610.7 1282.6 611.5 1282.6 C612.2 1282.5 613 1282.6 613.7 1282.7 C614.3 1282.9 615 1283.1 615.6 1283.4 C616.1 1283.7 616.8 1284.3 617 1284.4"/>
<path d="M638.9 1301.7 C638.6 1301.9 637.8 1302.4 637.2 1302.6 C636.6 1302.8 635.8 1302.9 635.1 1303 C634.4 1303.1 633.6 1303.1 632.9 1303 C632.2 1302.9 631.5 1302.7 630.9 1302.5 C630.3 1302.2 629.7 1301.9 629.3 1301.5 C628.8 1301.2 628.5 1300.7 628.3 1300.3 C628.1 1299.9 628 1299.4 628.1 1299 C628.2 1298.5 628.4 1298.1 628.7 1297.7 C629 1297.3 629.5 1296.9 630 1296.6 C630.5 1296.3 631.2 1296 631.8 1295.8 C632.5 1295.7 633.2 1295.6 634 1295.6 C634.7 1295.5 635.5 1295.6 636.2 1295.7 C636.8 1295.9 637.5 1296.1 638.1 1296.4 C638.6 1296.7 639.3 1297.3 639.5 1297.4"/>
<path d="M650 1243 L650 1261" stroke-width="1.2"/>
<path d="M650 1268 L650 1288" stroke-width="1.2"/>
<path d="M650 1292 L650 1304" stroke-width="1.2"/>
<path d="M732.1 1313.4 C732.4 1313.9 733.7 1315.4 734 1316.5 C734.3 1317.5 734.3 1318.7 733.9 1319.8 C733.5 1320.8 732.8 1321.9 731.8 1322.8 C730.8 1323.7 729.4 1324.6 728 1325.3 C726.5 1325.9 724.7 1326.4 722.9 1326.8 C721.1 1327.1 719.1 1327.2 717.2 1327.1 C715.3 1327 713.4 1326.8 711.7 1326.3 C710 1325.9 708.3 1325.2 707 1324.4 C705.7 1323.6 704.5 1322.7 703.8 1321.7 C703 1320.7 702.5 1319.6 702.4 1318.5 C702.3 1317.4 702.5 1316.2 703.1 1315.2 C703.7 1314.2 704.6 1313.1 705.8 1312.3 C706.9 1311.4 708.4 1310.7 710 1310.1 C711.6 1309.5 713.5 1309.1 715.4 1308.9 C717.2 1308.7 720.1 1308.9 721.1 1308.9"/>
<path d="M736.7 1299.1 C736.5 1299.3 735.7 1299.8 735 1300 C734.4 1300.2 733.7 1300.3 733 1300.4 C732.2 1300.5 731.5 1300.5 730.8 1300.4 C730.1 1300.3 729.3 1300.1 728.7 1299.9 C728.1 1299.6 727.6 1299.3 727.1 1298.9 C726.7 1298.6 726.4 1298.1 726.2 1297.7 C726 1297.3 725.9 1296.8 725.9 1296.4 C726 1295.9 726.2 1295.5 726.5 1295.1 C726.8 1294.7 727.3 1294.3 727.8 1294 C728.4 1293.7 729 1293.4 729.7 1293.2 C730.3 1293.1 731.1 1293 731.8 1293 C732.5 1292.9 733.3 1293 734 1293.1 C734.7 1293.3 735.4 1293.5 735.9 1293.8 C736.5 1294.1 737.1 1294.7 737.4 1294.8"/>
<path d="M758.7 1312.1 C758.5 1312.3 757.7 1312.8 757 1313 C756.4 1313.2 755.7 1313.3 755 1313.4 C754.2 1313.5 753.5 1313.5 752.8 1313.4 C752.1 1313.3 751.3 1313.1 750.7 1312.9 C750.1 1312.6 749.6 1312.3 749.1 1311.9 C748.7 1311.6 748.4 1311.1 748.2 1310.7 C748 1310.3 747.9 1309.8 747.9 1309.4 C748 1308.9 748.2 1308.5 748.5 1308.1 C748.8 1307.7 749.3 1307.3 749.8 1307 C750.4 1306.7 751 1306.4 751.7 1306.2 C752.3 1306.1 753.1 1306 753.8 1306 C754.5 1305.9 755.3 1306 756 1306.1 C756.7 1306.3 757.4 1306.5 757.9 1306.8 C758.5 1307.1 759.1 1307.7 759.4 1307.8"/>
<path d="M685.5 1328.6 C685.2 1328.8 684.4 1329.3 683.8 1329.5 C683.2 1329.7 682.4 1329.8 681.7 1329.9 C681 1330 680.2 1330 679.5 1329.9 C678.8 1329.8 678.1 1329.6 677.5 1329.4 C676.9 1329.1 676.3 1328.8 675.9 1328.4 C675.4 1328.1 675.1 1327.6 674.9 1327.2 C674.7 1326.8 674.6 1326.3 674.7 1325.9 C674.8 1325.4 675 1325 675.3 1324.6 C675.6 1324.2 676.1 1323.8 676.6 1323.5 C677.1 1323.2 677.8 1322.9 678.4 1322.7 C679.1 1322.6 679.8 1322.5 680.6 1322.5 C681.3 1322.4 682.1 1322.5 682.8 1322.6 C683.4 1322.8 684.1 1323 684.7 1323.3 C685.2 1323.6 685.9 1324.2 686.1 1324.3"/>
<path d="M708 1341.6 C707.7 1341.8 706.9 1342.3 706.3 1342.5 C705.7 1342.7 704.9 1342.8 704.2 1342.9 C703.5 1343 702.7 1343 702 1342.9 C701.3 1342.8 700.6 1342.6 700 1342.4 C699.4 1342.1 698.8 1341.8 698.4 1341.4 C697.9 1341.1 697.6 1340.6 697.4 1340.2 C697.2 1339.8 697.1 1339.3 697.2 1338.9 C697.3 1338.4 697.5 1338 697.8 1337.6 C698.1 1337.2 698.6 1336.8 699.1 1336.5 C699.6 1336.2 700.3 1335.9 700.9 1335.7 C701.6 1335.6 702.3 1335.5 703.1 1335.5 C703.8 1335.4 704.6 1335.5 705.3 1335.6 C705.9 1335.8 706.6 1336 707.2 1336.3 C707.7 1336.6 708.4 1337.2 708.6 1337.3"/>
<path d="M797.8 1354.4 C798 1354.8 799 1355.9 799.2 1356.7 C799.5 1357.5 799.4 1358.4 799.2 1359.2 C798.9 1360 798.3 1360.8 797.6 1361.5 C796.8 1362.2 795.8 1362.9 794.7 1363.4 C793.6 1363.9 792.2 1364.3 790.8 1364.5 C789.5 1364.7 788 1364.8 786.6 1364.8 C785.2 1364.7 783.7 1364.5 782.4 1364.1 C781.1 1363.8 779.9 1363.3 778.9 1362.7 C777.9 1362.1 777 1361.4 776.4 1360.7 C775.9 1359.9 775.5 1359.1 775.4 1358.3 C775.3 1357.4 775.5 1356.6 775.9 1355.8 C776.4 1355 777.1 1354.2 777.9 1353.6 C778.8 1352.9 780 1352.4 781.2 1351.9 C782.4 1351.5 783.8 1351.2 785.2 1351 C786.6 1350.9 788.8 1351 789.5 1351"/>
<path d="M801.5 1343.8 C801.3 1343.9 800.8 1344.3 800.3 1344.5 C799.9 1344.6 799.3 1344.7 798.8 1344.8 C798.3 1344.8 797.7 1344.8 797.2 1344.7 C796.7 1344.7 796.2 1344.5 795.8 1344.4 C795.3 1344.2 794.9 1344 794.6 1343.7 C794.3 1343.4 794 1343.1 793.9 1342.8 C793.8 1342.5 793.7 1342.2 793.8 1341.9 C793.8 1341.5 794 1341.2 794.2 1340.9 C794.4 1340.6 794.7 1340.4 795.1 1340.1 C795.5 1339.9 796 1339.7 796.4 1339.6 C796.9 1339.5 797.5 1339.4 798 1339.4 C798.5 1339.4 799.1 1339.4 799.6 1339.5 C800 1339.6 800.5 1339.8 800.9 1340 C801.3 1340.2 801.8 1340.6 802 1340.8"/>
<path d="M818.3 1352.8 C818.1 1352.9 817.5 1353.3 817.1 1353.5 C816.6 1353.6 816.1 1353.7 815.6 1353.8 C815 1353.8 814.5 1353.8 814 1353.7 C813.5 1353.7 812.9 1353.5 812.5 1353.4 C812.1 1353.2 811.7 1353 811.4 1352.7 C811 1352.4 810.8 1352.1 810.7 1351.8 C810.5 1351.5 810.5 1351.2 810.5 1350.9 C810.6 1350.5 810.7 1350.2 810.9 1349.9 C811.2 1349.6 811.5 1349.4 811.9 1349.1 C812.2 1348.9 812.7 1348.7 813.2 1348.6 C813.7 1348.5 814.2 1348.4 814.7 1348.4 C815.3 1348.4 815.8 1348.4 816.3 1348.5 C816.8 1348.6 817.3 1348.8 817.7 1349 C818.1 1349.2 818.5 1349.6 818.7 1349.8"/>
<path d="M762.8 1365.8 C762.6 1365.9 762 1366.3 761.6 1366.5 C761.1 1366.6 760.6 1366.7 760.1 1366.8 C759.5 1366.8 759 1366.8 758.5 1366.7 C758 1366.7 757.4 1366.5 757 1366.4 C756.6 1366.2 756.2 1366 755.9 1365.7 C755.5 1365.4 755.3 1365.1 755.2 1364.8 C755 1364.5 755 1364.2 755 1363.9 C755.1 1363.5 755.2 1363.2 755.4 1362.9 C755.7 1362.6 756 1362.4 756.4 1362.1 C756.7 1361.9 757.2 1361.7 757.7 1361.6 C758.2 1361.5 758.7 1361.4 759.2 1361.4 C759.8 1361.4 760.3 1361.4 760.8 1361.5 C761.3 1361.6 761.8 1361.8 762.2 1362 C762.6 1362.2 763 1362.6 763.2 1362.8"/>
<path d="M779.8 1375.1 C779.6 1375.2 779 1375.5 778.6 1375.7 C778.1 1375.9 777.6 1376 777.1 1376 C776.5 1376.1 776 1376.1 775.5 1376 C775 1375.9 774.4 1375.8 774 1375.6 C773.6 1375.4 773.2 1375.2 772.9 1375 C772.5 1374.7 772.3 1374.4 772.2 1374.1 C772 1373.8 772 1373.4 772 1373.1 C772.1 1372.8 772.2 1372.5 772.4 1372.2 C772.7 1371.9 773 1371.6 773.4 1371.4 C773.7 1371.2 774.2 1371 774.7 1370.9 C775.2 1370.7 775.7 1370.7 776.2 1370.7 C776.8 1370.6 777.3 1370.7 777.8 1370.8 C778.3 1370.9 778.8 1371.1 779.2 1371.3 C779.6 1371.5 780 1371.9 780.2 1372"/>
<path d="M788 1322.8 L788 1340.8" stroke-width="1.2"/>
<path d="M788 1347.8 L788 1367.8" stroke-width="1.2"/>
<path d="M788 1371.8 L788 1383.8" stroke-width="1.2"/>
<path d="M771.4 1350.8 L783.4 1343.8" stroke-width="1.2"/>
<path d="M870.3 1393.2 C870.6 1393.7 871.9 1395.2 872.2 1396.3 C872.5 1397.3 872.5 1398.5 872.1 1399.6 C871.7 1400.6 871 1401.7 870 1402.6 C869 1403.5 867.6 1404.4 866.2 1405.1 C864.7 1405.7 862.9 1406.2 861.1 1406.6 C859.3 1406.9 857.3 1407 855.4 1406.9 C853.5 1406.8 851.6 1406.6 849.9 1406.1 C848.2 1405.7 846.5 1405 845.2 1404.2 C843.9 1403.4 842.7 1402.5 842 1401.5 C841.2 1400.5 840.7 1399.4 840.6 1398.3 C840.5 1397.2 840.7 1396 841.3 1395 C841.9 1394 842.8 1392.9 844 1392.1 C845.1 1391.2 846.6 1390.5 848.2 1389.9 C849.8 1389.3 851.7 1388.9 853.6 1388.7 C855.4 1388.5 858.3 1388.7 859.3 1388.7"/>
<path d="M874.9 1378.9 C874.7 1379.1 873.9 1379.6 873.2 1379.8 C872.6 1380 871.9 1380.1 871.2 1380.2 C870.4 1380.3 869.7 1380.3 869 1380.2 C868.3 1380.1 867.5 1379.9 866.9 1379.7 C866.3 1379.4 865.8 1379.1 865.3 1378.7 C864.9 1378.4 864.6 1377.9 864.4 1377.5 C864.2 1377.1 864.1 1376.6 864.1 1376.2 C864.2 1375.7 864.4 1375.3 864.7 1374.9 C865 1374.5 865.5 1374.1 866 1373.8 C866.6 1373.5 867.2 1373.2 867.9 1373 C868.5 1372.9 869.3 1372.8 870 1372.8 C870.7 1372.7 871.5 1372.8 872.2 1372.9 C872.9 1373.1 873.6 1373.3 874.1 1373.6 C874.7 1373.9 875.3 1374.5 875.6 1374.6"/>
<path d="M896.9 1391.9 C896.7 1392.1 895.9 1392.6 895.2 1392.8 C894.6 1393 893.9 1393.1 893.2 1393.2 C892.4 1393.3 891.7 1393.3 891 1393.2 C890.3 1393.1 889.5 1392.9 888.9 1392.7 C888.3 1392.4 887.8 1392.1 887.3 1391.7 C886.9 1391.4 886.6 1390.9 886.4 1390.5 C886.2 1390.1 886.1 1389.6 886.1 1389.2 C886.2 1388.7 886.4 1388.3 886.7 1387.9 C887 1387.5 887.5 1387.1 888 1386.8 C888.6 1386.5 889.2 1386.2 889.9 1386 C890.5 1385.9 891.3 1385.8 892 1385.8 C892.7 1385.7 893.5 1385.8 894.2 1385.9 C894.9 1386.1 895.6 1386.3 896.1 1386.6 C896.7 1386.9 897.3 1387.5 897.6 1387.6"/>
<path d="M823.7 1408.4 C823.4 1408.6 822.6 1409.1 822 1409.3 C821.4 1409.5 820.6 1409.6 819.9 1409.7 C819.2 1409.8 818.4 1409.8 817.7 1409.7 C817 1409.6 816.3 1409.4 815.7 1409.2 C815.1 1408.9 814.5 1408.6 814.1 1408.2 C813.6 1407.9 813.3 1407.4 813.1 1407 C812.9 1406.6 812.8 1406.1 812.9 1405.7 C813 1405.2 813.2 1404.8 813.5 1404.4 C813.8 1404 814.3 1403.6 814.8 1403.3 C815.3 1403 816 1402.7 816.6 1402.5 C817.3 1402.4 818 1402.3 818.8 1402.3 C819.5 1402.2 820.3 1402.3 821 1402.4 C821.6 1402.6 822.3 1402.8 822.9 1403.1 C823.4 1403.4 824.1 1404 824.3 1404.1"/>
<path d="M846.2 1421.4 C845.9 1421.6 845.1 1422.1 844.5 1422.3 C843.9 1422.5 843.1 1422.6 842.4 1422.7 C841.7 1422.8 840.9 1422.8 840.2 1422.7 C839.5 1422.6 838.8 1422.4 838.2 1422.2 C837.6 1421.9 837 1421.6 836.6 1421.2 C836.1 1420.9 835.8 1420.4 835.6 1420 C835.4 1419.6 835.3 1419.1 835.4 1418.7 C835.5 1418.2 835.7 1417.8 836 1417.4 C836.3 1417 836.8 1416.6 837.3 1416.3 C837.8 1416 838.5 1415.7 839.1 1415.5 C839.8 1415.4 840.5 1415.3 841.3 1415.3 C842 1415.2 842.8 1415.3 843.5 1415.4 C844.1 1415.6 844.8 1415.8 845.4 1416.1 C845.9 1416.4 846.6 1417 846.8 1417.1"/>
<path d="M939.4 1433.1 C939.7 1433.6 941 1435.1 941.3 1436.2 C941.6 1437.2 941.6 1438.4 941.2 1439.5 C940.8 1440.5 940.1 1441.6 939.1 1442.5 C938.1 1443.4 936.7 1444.3 935.3 1445 C933.8 1445.6 932 1446.1 930.2 1446.5 C928.4 1446.8 926.4 1446.9 924.5 1446.8 C922.6 1446.7 920.7 1446.5 919 1446 C917.3 1445.6 915.6 1444.9 914.3 1444.1 C913 1443.3 911.8 1442.4 911.1 1441.4 C910.3 1440.4 909.8 1439.3 909.7 1438.2 C909.6 1437.1 909.8 1435.9 910.4 1434.9 C911 1433.9 911.9 1432.8 913.1 1432 C914.2 1431.1 915.7 1430.4 917.3 1429.8 C918.9 1429.2 920.8 1428.8 922.7 1428.6 C924.5 1428.4 927.4 1428.6 928.4 1428.6"/>
<path d="M944 1418.8 C943.8 1419 943 1419.5 942.3 1419.7 C941.7 1419.9 941 1420 940.3 1420.1 C939.5 1420.2 938.8 1420.2 938.1 1420.1 C937.4 1420 936.6 1419.8 936 1419.6 C935.4 1419.3 934.9 1419 934.4 1418.6 C934 1418.3 933.7 1417.8 933.5 1417.4 C933.3 1417 933.2 1416.5 933.2 1416.1 C933.3 1415.6 933.5 1415.2 933.8 1414.8 C934.1 1414.4 934.6 1414 935.1 1413.7 C935.7 1413.4 936.3 1413.1 937 1412.9 C937.6 1412.8 938.4 1412.7 939.1 1412.7 C939.8 1412.6 940.6 1412.7 941.3 1412.8 C942 1413 942.7 1413.2 943.2 1413.5 C943.8 1413.8 944.4 1414.4 944.7 1414.5"/>
<path d="M966 1431.8 C965.8 1432 965 1432.5 964.3 1432.7 C963.7 1432.9 963 1433 962.3 1433.1 C961.5 1433.2 960.8 1433.2 960.1 1433.1 C959.4 1433 958.6 1432.8 958 1432.6 C957.4 1432.3 956.9 1432 956.4 1431.6 C956 1431.3 955.7 1430.8 955.5 1430.4 C955.3 1430 955.2 1429.5 955.2 1429.1 C955.3 1428.6 955.5 1428.2 955.8 1427.8 C956.1 1427.4 956.6 1427 957.1 1426.7 C957.7 1426.4 958.3 1426.1 959 1425.9 C959.6 1425.8 960.4 1425.7 961.1 1425.7 C961.8 1425.6 962.6 1425.7 963.3 1425.8 C964 1426 964.7 1426.2 965.2 1426.5 C965.8 1426.8 966.4 1427.4 966.7 1427.5"/>
<path d="M892.8 1448.3 C892.5 1448.5 891.7 1449 891.1 1449.2 C890.5 1449.4 889.7 1449.5 889 1449.6 C888.3 1449.7 887.5 1449.7 886.8 1449.6 C886.1 1449.5 885.4 1449.3 884.8 1449.1 C884.2 1448.8 883.6 1448.5 883.2 1448.1 C882.7 1447.8 882.4 1447.3 882.2 1446.9 C882 1446.5 881.9 1446 882 1445.6 C882.1 1445.1 882.3 1444.7 882.6 1444.3 C882.9 1443.9 883.4 1443.5 883.9 1443.2 C884.4 1442.9 885.1 1442.6 885.7 1442.4 C886.4 1442.3 887.1 1442.2 887.9 1442.2 C888.6 1442.1 889.4 1442.2 890.1 1442.3 C890.7 1442.5 891.4 1442.7 892 1443 C892.5 1443.3 893.2 1443.9 893.4 1444"/>
<path d="M915.3 1461.3 C915 1461.5 914.2 1462 913.6 1462.2 C913 1462.4 912.2 1462.5 911.5 1462.6 C910.8 1462.7 910 1462.7 909.3 1462.6 C908.6 1462.5 907.9 1462.3 907.3 1462.1 C906.7 1461.8 906.1 1461.5 905.7 1461.1 C905.2 1460.8 904.9 1460.3 904.7 1459.9 C904.5 1459.5 904.4 1459 904.5 1458.6 C904.6 1458.1 904.8 1457.7 905.1 1457.3 C905.4 1456.9 905.9 1456.5 906.4 1456.2 C906.9 1455.9 907.6 1455.6 908.2 1455.4 C908.9 1455.3 909.6 1455.2 910.4 1455.2 C911.1 1455.1 911.9 1455.2 912.6 1455.3 C913.2 1455.5 913.9 1455.7 914.5 1456 C915 1456.3 915.7 1456.9 915.9 1457"/>
<path d="M1005.1 1474.1 C1005.3 1474.5 1006.3 1475.6 1006.5 1476.4 C1006.8 1477.2 1006.7 1478.1 1006.5 1478.9 C1006.2 1479.7 1005.6 1480.5 1004.9 1481.2 C1004.1 1481.9 1003.1 1482.6 1002 1483.1 C1000.9 1483.6 999.5 1484 998.1 1484.2 C996.8 1484.4 995.3 1484.5 993.9 1484.5 C992.5 1484.4 991 1484.2 989.7 1483.8 C988.4 1483.5 987.2 1483 986.2 1482.4 C985.2 1481.8 984.3 1481.1 983.7 1480.4 C983.2 1479.6 982.8 1478.8 982.7 1478 C982.6 1477.1 982.8 1476.3 983.2 1475.5 C983.7 1474.7 984.4 1473.9 985.2 1473.3 C986.1 1472.6 987.3 1472.1 988.5 1471.6 C989.7 1471.2 991.1 1470.9 992.5 1470.7 C993.9 1470.6 996.1 1470.7 996.8 1470.7"/>
<path d="M1008.8 1463.5 C1008.6 1463.6 1008.1 1464 1007.6 1464.2 C1007.2 1464.3 1006.6 1464.4 1006.1 1464.5 C1005.6 1464.5 1005 1464.5 1004.5 1464.4 C1004 1464.4 1003.5 1464.2 1003.1 1464.1 C1002.6 1463.9 1002.2 1463.7 1001.9 1463.4 C1001.6 1463.1 1001.3 1462.8 1001.2 1462.5 C1001.1 1462.2 1001 1461.9 1001.1 1461.6 C1001.1 1461.2 1001.3 1460.9 1001.5 1460.6 C1001.7 1460.3 1002 1460.1 1002.4 1459.8 C1002.8 1459.6 1003.3 1459.4 1003.7 1459.3 C1004.2 1459.2 1004.8 1459.1 1005.3 1459.1 C1005.8 1459.1 1006.4 1459.1 1006.9 1459.2 C1007.3 1459.3 1007.8 1459.5 1008.2 1459.7 C1008.6 1459.9 1009.1 1460.3 1009.3 1460.5"/>
<path d="M1025.6 1472.5 C1025.4 1472.6 1024.8 1473 1024.4 1473.2 C1023.9 1473.3 1023.4 1473.4 1022.9 1473.5 C1022.3 1473.5 1021.8 1473.5 1021.3 1473.4 C1020.8 1473.4 1020.2 1473.2 1019.8 1473.1 C1019.4 1472.9 1019 1472.7 1018.7 1472.4 C1018.3 1472.1 1018.1 1471.8 1018 1471.5 C1017.8 1471.2 1017.8 1470.9 1017.8 1470.6 C1017.9 1470.2 1018 1469.9 1018.2 1469.6 C1018.5 1469.3 1018.8 1469.1 1019.2 1468.8 C1019.5 1468.6 1020 1468.4 1020.5 1468.3 C1021 1468.2 1021.5 1468.1 1022 1468.1 C1022.6 1468.1 1023.1 1468.1 1023.6 1468.2 C1024.1 1468.3 1024.6 1468.5 1025 1468.7 C1025.4 1468.9 1025.8 1469.3 1026 1469.5"/>
<path d="M970.1 1485.5 C969.9 1485.6 969.3 1486 968.9 1486.2 C968.4 1486.3 967.9 1486.4 967.4 1486.5 C966.8 1486.5 966.3 1486.5 965.8 1486.4 C965.3 1486.4 964.7 1486.2 964.3 1486.1 C963.9 1485.9 963.5 1485.7 963.2 1485.4 C962.8 1485.1 962.6 1484.8 962.5 1484.5 C962.3 1484.2 962.3 1483.9 962.3 1483.6 C962.4 1483.2 962.5 1482.9 962.7 1482.6 C963 1482.3 963.3 1482.1 963.7 1481.8 C964 1481.6 964.5 1481.4 965 1481.3 C965.5 1481.2 966 1481.1 966.5 1481.1 C967.1 1481.1 967.6 1481.1 968.1 1481.2 C968.6 1481.3 969.1 1481.5 969.5 1481.7 C969.9 1481.9 970.3 1482.3 970.5 1482.5"/>
<path d="M987.1 1494.8 C986.9 1494.9 986.3 1495.2 985.9 1495.4 C985.4 1495.6 984.9 1495.7 984.4 1495.7 C983.8 1495.8 983.3 1495.8 982.8 1495.7 C982.3 1495.6 981.7 1495.5 981.3 1495.3 C980.9 1495.1 980.5 1494.9 980.2 1494.7 C979.8 1494.4 979.6 1494.1 979.5 1493.8 C979.3 1493.5 979.3 1493.1 979.3 1492.8 C979.4 1492.5 979.5 1492.2 979.7 1491.9 C980 1491.6 980.3 1491.3 980.7 1491.1 C981 1490.9 981.5 1490.7 982 1490.6 C982.5 1490.4 983 1490.4 983.5 1490.4 C984.1 1490.3 984.6 1490.4 985.1 1490.5 C985.6 1490.6 986.1 1490.8 986.5 1491 C986.9 1491.2 987.3 1491.6 987.5 1491.7"/>
<path d="M996 1442.5 L996 1460.5" stroke-width="1.2"/>
<path d="M996 1467.5 L996 1487.5" stroke-width="1.2"/>
<path d="M996 1491.5 L996 1503.5" stroke-width="1.2"/>
<path d="M978.7 1470.5 L990.7 1463.5" stroke-width="1.2"/>
<path d="M1074.2 1514 C1074.4 1514.4 1075.4 1515.5 1075.6 1516.3 C1075.9 1517.1 1075.8 1518 1075.6 1518.8 C1075.3 1519.6 1074.7 1520.4 1074 1521.1 C1073.2 1521.8 1072.2 1522.5 1071.1 1523 C1070 1523.5 1068.6 1523.9 1067.2 1524.1 C1065.9 1524.3 1064.4 1524.4 1063 1524.4 C1061.6 1524.3 1060.1 1524.1 1058.8 1523.7 C1057.5 1523.4 1056.3 1522.9 1055.3 1522.3 C1054.3 1521.7 1053.4 1521 1052.8 1520.3 C1052.3 1519.5 1051.9 1518.7 1051.8 1517.9 C1051.7 1517 1051.9 1516.2 1052.3 1515.4 C1052.8 1514.6 1053.5 1513.8 1054.3 1513.2 C1055.2 1512.5 1056.4 1512 1057.6 1511.5 C1058.8 1511.1 1060.2 1510.8 1061.6 1510.6 C1063 1510.5 1065.2 1510.6 1065.9 1510.6"/>
<path d="M1077.9 1503.4 C1077.7 1503.5 1077.2 1503.9 1076.7 1504.1 C1076.3 1504.2 1075.7 1504.3 1075.2 1504.4 C1074.7 1504.4 1074.1 1504.4 1073.6 1504.3 C1073.1 1504.3 1072.6 1504.1 1072.2 1504 C1071.7 1503.8 1071.3 1503.6 1071 1503.3 C1070.7 1503 1070.4 1502.7 1070.3 1502.4 C1070.2 1502.1 1070.1 1501.8 1070.2 1501.5 C1070.2 1501.1 1070.4 1500.8 1070.6 1500.5 C1070.8 1500.2 1071.1 1500 1071.5 1499.7 C1071.9 1499.5 1072.4 1499.3 1072.8 1499.2 C1073.3 1499.1 1073.9 1499 1074.4 1499 C1074.9 1499 1075.5 1499 1076 1499.1 C1076.4 1499.2 1076.9 1499.4 1077.3 1499.6 C1077.7 1499.8 1078.2 1500.2 1078.4 1500.3"/>
<path d="M1094.7 1512.4 C1094.5 1512.5 1093.9 1512.9 1093.5 1513.1 C1093 1513.2 1092.5 1513.3 1092 1513.4 C1091.4 1513.4 1090.9 1513.4 1090.4 1513.3 C1089.9 1513.3 1089.3 1513.1 1088.9 1513 C1088.5 1512.8 1088.1 1512.6 1087.8 1512.3 C1087.4 1512 1087.2 1511.7 1087.1 1511.4 C1086.9 1511.1 1086.9 1510.8 1086.9 1510.5 C1087 1510.1 1087.1 1509.8 1087.3 1509.5 C1087.6 1509.2 1087.9 1509 1088.3 1508.7 C1088.6 1508.5 1089.1 1508.3 1089.6 1508.2 C1090.1 1508.1 1090.6 1508 1091.1 1508 C1091.7 1508 1092.2 1508 1092.7 1508.1 C1093.2 1508.2 1093.7 1508.4 1094.1 1508.6 C1094.5 1508.8 1094.9 1509.2 1095.1 1509.3"/>
<path d="M1039.2 1525.4 C1039 1525.5 1038.4 1525.9 1038 1526.1 C1037.5 1526.2 1037 1526.3 1036.5 1526.4 C1035.9 1526.4 1035.4 1526.4 1034.9 1526.3 C1034.4 1526.3 1033.8 1526.1 1033.4 1526 C1033 1525.8 1032.6 1525.6 1032.3 1525.3 C1031.9 1525 1031.7 1524.7 1031.6 1524.4 C1031.4 1524.1 1031.4 1523.8 1031.4 1523.5 C1031.5 1523.1 1031.6 1522.8 1031.8 1522.5 C1032.1 1522.2 1032.4 1522 1032.8 1521.7 C1033.1 1521.5 1033.6 1521.3 1034.1 1521.2 C1034.6 1521.1 1035.1 1521 1035.6 1521 C1036.2 1521 1036.7 1521 1037.2 1521.1 C1037.7 1521.2 1038.2 1521.4 1038.6 1521.6 C1039 1521.8 1039.4 1522.2 1039.6 1522.3"/>
<path d="M1056.2 1534.7 C1056 1534.8 1055.4 1535.1 1055 1535.3 C1054.5 1535.5 1054 1535.6 1053.5 1535.6 C1052.9 1535.7 1052.4 1535.7 1051.9 1535.6 C1051.4 1535.5 1050.8 1535.4 1050.4 1535.2 C1050 1535 1049.6 1534.8 1049.3 1534.6 C1048.9 1534.3 1048.7 1534 1048.6 1533.7 C1048.4 1533.4 1048.4 1533 1048.4 1532.7 C1048.5 1532.4 1048.6 1532.1 1048.8 1531.8 C1049.1 1531.5 1049.4 1531.2 1049.8 1531 C1050.1 1530.8 1050.6 1530.6 1051.1 1530.5 C1051.6 1530.3 1052.1 1530.3 1052.6 1530.3 C1053.2 1530.2 1053.7 1530.3 1054.2 1530.4 C1054.7 1530.5 1055.2 1530.7 1055.6 1530.9 C1056 1531.1 1056.4 1531.5 1056.6 1531.6"/>
<path d="M146.4 958.2 C146.1 958.4 145.3 959.2 144.6 959.5 C143.9 959.9 143.1 960.2 142.2 960.4 C141.4 960.6 140.4 960.7 139.5 960.7 C138.6 960.7 137.6 960.6 136.8 960.4 C135.9 960.2 135.1 959.9 134.4 959.5 C133.7 959.2 133 958.7 132.6 958.2 C132.1 957.7 131.8 957.1 131.6 956.6 C131.5 956 131.5 955.4 131.6 954.8 C131.8 954.3 132.1 953.7 132.6 953.2 C133 952.7 133.7 952.2 134.4 951.9 C135.1 951.5 135.9 951.2 136.8 951 C137.6 950.8 138.6 950.7 139.5 950.7 C140.4 950.7 141.4 950.8 142.2 951 C143.1 951.2 143.9 951.5 144.6 951.9 C145.3 952.2 146.1 953 146.4 953.2"/>
<path d="M98.1 987 C97.8 987.2 97 988 96.3 988.3 C95.6 988.7 94.8 989 93.9 989.2 C93.1 989.4 92.1 989.5 91.2 989.5 C90.3 989.5 89.3 989.4 88.5 989.2 C87.6 989 86.8 988.7 86.1 988.3 C85.4 988 84.7 987.5 84.3 987 C83.8 986.5 83.5 985.9 83.3 985.4 C83.2 984.8 83.2 984.2 83.3 983.6 C83.5 983.1 83.8 982.5 84.3 982 C84.7 981.5 85.4 981 86.1 980.7 C86.8 980.3 87.6 980 88.5 979.8 C89.3 979.6 90.3 979.5 91.2 979.5 C92.1 979.5 93.1 979.6 93.9 979.8 C94.8 980 95.6 980.3 96.3 980.7 C97 981 97.8 981.8 98.1 982"/>
<use href="#hb" x="181.2" y="1105"/>
<use href="#hs" x="160" y="1080"/>
<use href="#hs" x="160" y="1103.8"/>
<use href="#hs" x="202.9" y="1105"/>
<use href="#hs" x="202.9" y="1128.7"/>
<use href="#hb" x="318.7" y="1187.5"/>
<use href="#hs" x="297.5" y="1162.5"/>
<use href="#hs" x="297.5" y="1186.3"/>
<use href="#hs" x="340.4" y="1187.5"/>
<use href="#hs" x="340.4" y="1211.2"/>
<use href="#hb" x="535" y="1307.5"/>
<use href="#hs" x="513.8" y="1282.5"/>
<use href="#hs" x="513.8" y="1306.3"/>
<use href="#hs" x="556.7" y="1307.5"/>
<use href="#hs" x="556.7" y="1331.2"/>
<use href="#hb" x="672.5" y="1387"/>
<use href="#hs" x="651.3" y="1362"/>
<use href="#hs" x="651.3" y="1385.8"/>
<use href="#hs" x="694.2" y="1387"/>
<use href="#hs" x="694.2" y="1410.7"/>
<use href="#hb" x="808.7" y="1465"/>
<use href="#hs" x="787.5" y="1440"/>
<use href="#hs" x="787.5" y="1463.8"/>
<use href="#hs" x="830.4" y="1465"/>
<use href="#hs" x="830.4" y="1488.7"/>
<use href="#hb" x="950" y="1545"/>
<use href="#hs" x="928.8" y="1520"/>
<use href="#hs" x="928.8" y="1543.8"/>
<use href="#hs" x="971.7" y="1545"/>
<use href="#hs" x="971.7" y="1568.7"/>
<use href="#hb" x="1020" y="1587.5"/>
<use href="#hs" x="998.8" y="1562.5"/>
<use href="#hs" x="998.8" y="1586.3"/>
<use href="#hs" x="1041.7" y="1587.5"/>
<use href="#hs" x="1041.7" y="1611.2"/>
<path d="M160.1 1129 L222 1165 L222 1233 L160.1 1197 Z" fill="#fdfefc"/>
<path d="M222.5 1165 L283 1130.3 L283 1198.3 L222.5 1233 Z" fill="#fdfefc"/>
<path d="M160.1 1129 L220.2 1094.3 L282.5 1130.3 L222.5 1165 Z" fill="#fdfefc"/>
<use href="#hb" x="191.2" y="1181.2"/>
<use href="#hb" x="169.5" y="1157" transform="translate(169.5 1157) scale(.85) translate(-169.5 -1157)"/>
<use href="#hb" x="169.5" y="1180" transform="translate(169.5 1180) scale(.85) translate(-169.5 -1180)"/>
<use href="#hb" x="213" y="1182" transform="translate(213 1182) scale(.85) translate(-213 -1182)"/>
<use href="#hb" x="213" y="1205" transform="translate(213 1205) scale(.85) translate(-213 -1205)"/>
<use href="#hs" x="180.5" y="1150"/>
<use href="#hs" x="201.2" y="1162"/>
<use href="#hs" x="180.5" y="1200"/>
<use href="#hs" x="201.2" y="1212"/>
<path d="M345 1260 L410 1297.5 L410 1392.5 L345 1355 Z" fill="#fdfefc"/>
<path d="M410 1297.5 L485 1254.2 L485 1349.2 L410 1392.5 Z" fill="#fdfefc"/>
<path d="M345 1260 L420 1216.7 L485 1254.2 L410 1297.5 Z" fill="#fdfefc"/>
<path d="M388.5 1225.7 L437 1253.7 L437 1273.7 L388.5 1245.7 Z" fill="#fdfefc"/>
<path d="M437 1253.7 L485 1225.7 L485 1245.7 L437 1273.7 Z" fill="#fdfefc"/>
<path d="M388.5 1225.7 L437 1197.7 L485.5 1225.7 L437 1253.7 Z" fill="#fdfefc"/>
<ellipse cx="405.3" cy="1226.7" rx="10" ry="6"/>
<ellipse cx="468.7" cy="1226.2" rx="10" ry="6"/>
<ellipse cx="437" cy="1243.4" rx="10" ry="6"/>
<g transform="translate(437 1225)">
<path d="M-14 -6.5 L-14 1.5 L-6.5 7 L7.5 7 L14 1.5 L14 -6.5 L7.5 -1 L-6.5 -1 Z" fill="#fdfefc"/>
<path d="M-14 -6.5 L-7.5 -12 L6.5 -12 L14 -6.5 L7.5 -1 L-6.5 -1 Z" fill="#fdfefc"/>
<path d="M-6 -1 L-6 7"/>
<path d="M8 -1 L8 7"/>
<path d="M-8.7 -17 L-8.7 -8 A8.7 4.2 0 0 0 8.7 -8 L8.7 -17" fill="#fdfefc"/>
<ellipse cx="0" cy="-17" rx="8.7" ry="4.2" fill="#fdfefc"/>
<path d="M8.2 -11.6 C7.9 -11.4 7.3 -10.7 6.7 -10.3 C6 -9.9 5.2 -9.6 4.4 -9.4 C3.5 -9.1 2.5 -8.9 1.5 -8.9 C0.5 -8.8 -0.5 -8.8 -1.5 -8.9 C-2.5 -8.9 -3.5 -9.1 -4.3 -9.4 C-5.2 -9.6 -6 -9.9 -6.7 -10.3 C-7.3 -10.7 -7.9 -11.4 -8.2 -11.6"/>
</g>
<use href="#hb" x="355.3" y="1290.5"/>
<use href="#hb" x="355.3" y="1314"/>
<use href="#hs" x="377.8" y="1296"/>
<path d="M374.8 1291 L380.8 1301"/>
<use href="#hs" x="377.8" y="1361"/>
<path d="M374.8 1356 L380.8 1366"/>
<ellipse cx="367" cy="1336" rx="11" ry="14" transform="rotate(-25 367 1336)"/>
<use href="#hs" x="367" y="1336"/>
<use href="#hbv" x="398.9" y="1314"/>
<use href="#hbv" x="398.9" y="1337.7"/>
<ellipse cx="437.7" cy="1343" rx="9" ry="12.5" transform="rotate(25 437.7 1343)"/><ellipse cx="437.7" cy="1343" rx="5" ry="7.5" transform="rotate(25 437.7 1343)"/>
<path d="M767.6 1505.5 L830 1541.2 L830 1635.2 L767.6 1599.5 Z" fill="#fdfefc"/>
<path d="M829.5 1541.2 L913 1493.2 L913 1587.2 L829.5 1635.2 Z" fill="#fdfefc"/>
<path d="M767.6 1505.5 L850.7 1457.5 L912.6 1493.2 L829.5 1541.2 Z" fill="#fdfefc"/>
<path d="M809 1488 L858 1516 L858 1534 L809 1506 Z" fill="#fdfefc"/>
<path d="M857.5 1516 L905 1488.5 L905 1506.5 L857.5 1534 Z" fill="#fdfefc"/>
<path d="M809 1488 L856.6 1460.5 L905.1 1488.5 L857.5 1516 Z" fill="#fdfefc"/>
<path d="M809 1472 L858 1500 L858 1516 L809 1488 Z" fill="#fdfefc"/>
<path d="M857.5 1500 L905 1472.5 L905 1488.5 L857.5 1516 Z" fill="#fdfefc"/>
<path d="M809 1472 L856.6 1444.5 L905.1 1472.5 L857.5 1500 Z" fill="#fdfefc"/>
<use href="#hb" x="775" y="1528"/>
<use href="#hb" x="775" y="1555"/>
<use href="#hs" x="797" y="1535"/>
<path d="M794 1530 L800 1540"/>
<use href="#hs" x="797" y="1597"/>
<path d="M794 1592 L800 1602"/>
<ellipse cx="786" cy="1578" rx="11" ry="14" transform="rotate(-25 786 1578)"/>
<use href="#hs" x="786" y="1578"/>
<use href="#hb" x="818" y="1553"/>
<use href="#hb" x="818" y="1577"/>
<g transform="translate(1799.8 1162.7)" shape-rendering="geometricPrecision">
<path d="M-23.5 -5.4 L-19.7 -38.1 L-1.1 -50.1 L5.4 -49 L26.1 -35.9 L31.5 -24 L38.1 1.1 L31.5 33.8 L15.2 42.5 L8.7 42.5 L-15.3 28.3 L-24.5 17 Z" fill="#fdfefc" stroke-width="3.3"/>
<path d="M31.5 -24 L38.1 1.1 L36 12" stroke-width="5"/>
<path d="M-19.7 -38.1 C-18.1 -38.4 -15.7 -42 -9.9 -39.8 C-4.1 -37.6 10.1 -32.5 15.2 -25 C20.3 -17.4 20.2 -4.7 20.6 5.5 C21 15.7 18.3 29.8 17.4 36 C16.5 42.2 15.6 41.4 15.2 42.5" stroke-width="2"/>
<path d="M-12.8 -32.2 a5.5 7 -20 1 1 3 9.5" stroke-width="2.6"/>
<path d="M3.6 -23.5 a5.5 7 -20 1 1 3 9.5" stroke-width="2.6"/>
<path d="M3.6 24.4 a5.5 7 -20 1 1 3 9.5" stroke-width="2.6"/>
<path d="M-12.8 15.5 a5.5 7 -20 1 1 3 9.5" stroke-width="2.6"/>
</g>
<g transform="translate(1799.8 1259.1)" shape-rendering="geometricPrecision">
<path d="M-23.5 -5.4 L-19.7 -38.1 L-1.1 -50.1 L5.4 -49 L26.1 -35.9 L31.5 -24 L38.1 1.1 L31.5 33.8 L15.2 42.5 L8.7 42.5 L-15.3 28.3 L-24.5 17 Z" fill="#fdfefc" stroke-width="3.3"/>
<path d="M31.5 -24 L38.1 1.1 L36 12" stroke-width="5"/>
<path d="M-19.7 -38.1 C-18.1 -38.4 -15.7 -42 -9.9 -39.8 C-4.1 -37.6 10.1 -32.5 15.2 -25 C20.3 -17.4 20.2 -4.7 20.6 5.5 C21 15.7 18.3 29.8 17.4 36 C16.5 42.2 15.6 41.4 15.2 42.5" stroke-width="2"/>
<path d="M-12.8 -32.2 a5.5 7 -20 1 1 3 9.5" stroke-width="2.6"/>
<path d="M3.6 -23.5 a5.5 7 -20 1 1 3 9.5" stroke-width="2.6"/>
<path d="M3.6 24.4 a5.5 7 -20 1 1 3 9.5" stroke-width="2.6"/>
<path d="M-12.8 15.5 a5.5 7 -20 1 1 3 9.5" stroke-width="2.6"/>
</g>
<g transform="translate(1799.8 1355.5)" shape-rendering="geometricPrecision">
<path d="M-23.5 -5.4 L-19.7 -38.1 L-1.1 -50.1 L5.4 -49 L26.1 -35.9 L31.5 -24 L38.1 1.1 L31.5 33.8 L15.2 42.5 L8.7 42.5 L-15.3 28.3 L-24.5 17 Z" fill="#fdfefc" stroke-width="3.3"/>
<path d="M31.5 -24 L38.1 1.1 L36 12" stroke-width="5"/>
<path d="M-19.7 -38.1 C-18.1 -38.4 -15.7 -42 -9.9 -39.8 C-4.1 -37.6 10.1 -32.5 15.2 -25 C20.3 -17.4 20.2 -4.7 20.6 5.5 C21 15.7 18.3 29.8 17.4 36 C16.5 42.2 15.6 41.4 15.2 42.5" stroke-width="2"/>
<path d="M-12.8 -32.2 a5.5 7 -20 1 1 3 9.5" stroke-width="2.6"/>
<path d="M3.6 -23.5 a5.5 7 -20 1 1 3 9.5" stroke-width="2.6"/>
<path d="M3.6 24.4 a5.5 7 -20 1 1 3 9.5" stroke-width="2.6"/>
<path d="M-12.8 15.5 a5.5 7 -20 1 1 3 9.5" stroke-width="2.6"/>
</g>
<g transform="translate(1881 1211.7)" shape-rendering="geometricPrecision">
<path d="M-23.5 -5.4 L-19.7 -38.1 L-1.1 -50.1 L5.4 -49 L26.1 -35.9 L31.5 -24 L38.1 1.1 L31.5 33.8 L15.2 42.5 L8.7 42.5 L-15.3 28.3 L-24.5 17 Z" fill="#fdfefc" stroke-width="3.3"/>
<path d="M31.5 -24 L38.1 1.1 L36 12" stroke-width="5"/>
<path d="M-19.7 -38.1 C-18.1 -38.4 -15.7 -42 -9.9 -39.8 C-4.1 -37.6 10.1 -32.5 15.2 -25 C20.3 -17.4 20.2 -4.7 20.6 5.5 C21 15.7 18.3 29.8 17.4 36 C16.5 42.2 15.6 41.4 15.2 42.5" stroke-width="2"/>
<path d="M-12.8 -32.2 a5.5 7 -20 1 1 3 9.5" stroke-width="2.6"/>
<path d="M3.6 -23.5 a5.5 7 -20 1 1 3 9.5" stroke-width="2.6"/>
<path d="M3.6 24.4 a5.5 7 -20 1 1 3 9.5" stroke-width="2.6"/>
<path d="M-12.8 15.5 a5.5 7 -20 1 1 3 9.5" stroke-width="2.6"/>
</g>
<g transform="translate(1881 1308.1)" shape-rendering="geometricPrecision">
<path d="M-23.5 -5.4 L-19.7 -38.1 L-1.1 -50.1 L5.4 -49 L26.1 -35.9 L31.5 -24 L38.1 1.1 L31.5 33.8 L15.2 42.5 L8.7 42.5 L-15.3 28.3 L-24.5 17 Z" fill="#fdfefc" stroke-width="3.3"/>
<path d="M31.5 -24 L38.1 1.1 L36 12" stroke-width="5"/>
<path d="M-19.7 -38.1 C-18.1 -38.4 -15.7 -42 -9.9 -39.8 C-4.1 -37.6 10.1 -32.5 15.2 -25 C20.3 -17.4 20.2 -4.7 20.6 5.5 C21 15.7 18.3 29.8 17.4 36 C16.5 42.2 15.6 41.4 15.2 42.5" stroke-width="2"/>
<path d="M-12.8 -32.2 a5.5 7 -20 1 1 3 9.5" stroke-width="2.6"/>
<path d="M3.6 -23.5 a5.5 7 -20 1 1 3 9.5" stroke-width="2.6"/>
<path d="M3.6 24.4 a5.5 7 -20 1 1 3 9.5" stroke-width="2.6"/>
<path d="M-12.8 15.5 a5.5 7 -20 1 1 3 9.5" stroke-width="2.6"/>
</g>
<g transform="translate(1881 1404.5)" shape-rendering="geometricPrecision">
<path d="M-23.5 -5.4 L-19.7 -38.1 L-1.1 -50.1 L5.4 -49 L26.1 -35.9 L31.5 -24 L38.1 1.1 L31.5 33.8 L15.2 42.5 L8.7 42.5 L-15.3 28.3 L-24.5 17 Z" fill="#fdfefc" stroke-width="3.3"/>
<path d="M31.5 -24 L38.1 1.1 L36 12" stroke-width="5"/>
<path d="M-19.7 -38.1 C-18.1 -38.4 -15.7 -42 -9.9 -39.8 C-4.1 -37.6 10.1 -32.5 15.2 -25 C20.3 -17.4 20.2 -4.7 20.6 5.5 C21 15.7 18.3 29.8 17.4 36 C16.5 42.2 15.6 41.4 15.2 42.5" stroke-width="2"/>
<path d="M-12.8 -32.2 a5.5 7 -20 1 1 3 9.5" stroke-width="2.6"/>
<path d="M3.6 -23.5 a5.5 7 -20 1 1 3 9.5" stroke-width="2.6"/>
<path d="M3.6 24.4 a5.5 7 -20 1 1 3 9.5" stroke-width="2.6"/>
<path d="M-12.8 15.5 a5.5 7 -20 1 1 3 9.5" stroke-width="2.6"/>
</g>
<clipPath id="cpR"><path d="M1190 1100 H2100 V1900 H1030 V1600 H1190 Z"/></clipPath>
<path d="M1188 1536.4 L1473.4 1698.8 L1476.2 1700.3 L1479.2 1701.5 L1482.3 1702.5 L1485.5 1703.2 L1488.7 1703.6 L1491.9 1703.8 L1495.1 1703.7 L1498.3 1703.3 L1501.5 1702.7 L1504.6 1701.7 L1507.6 1700.6 L1510.5 1699.2 L1606.8 1646.8 L1593.2 1621.8 L1496.9 1674.1 L1496.2 1674.5 L1495.4 1674.8 L1494.6 1675 L1493.8 1675.2 L1493 1675.3 L1492.2 1675.3 L1491.3 1675.2 L1490.5 1675.1 L1489.7 1675 L1488.9 1674.7 L1488.2 1674.4 L1487.4 1674 L1202 1511.6 Z" fill="#fdfefc" stroke="none" clip-path="url(#cpR)"/>
<path d="M1188 1536.4 L1473.4 1698.8 L1476.2 1700.3 L1479.2 1701.5 L1482.3 1702.5 L1485.5 1703.2 L1488.7 1703.6 L1491.9 1703.8 L1495.1 1703.7 L1498.3 1703.3 L1501.5 1702.7 L1504.6 1701.7 L1507.6 1700.6 L1510.5 1699.2 L1606.8 1646.8" stroke-width="3.3" shape-rendering="geometricPrecision"/>
<path d="M1202 1511.6 L1487.4 1674 L1488.2 1674.4 L1488.9 1674.7 L1489.7 1675 L1490.5 1675.1 L1491.3 1675.2 L1492.2 1675.3 L1493 1675.3 L1493.8 1675.2 L1494.6 1675 L1495.4 1674.8 L1496.2 1674.5 L1496.9 1674.1 L1593.2 1621.8" stroke-width="3.3" shape-rendering="geometricPrecision"/>
<path d="M847 1640 L847 1775.9 L847.7 1784.2 L849.9 1792.3 L853.4 1799.9 L858.2 1806.8 L864.2 1812.8 L871.1 1817.6 L878.7 1821.2 L886.8 1823.3 L895.2 1824.1 L903.6 1823.3 L911.7 1821.2 L919.3 1817.6 L1567.1 1443.6 L1552.9 1419 L905.1 1792.9 L902 1794.4 L898.6 1795.3 L895.2 1795.6 L891.8 1795.3 L888.4 1794.4 L885.3 1792.9 L882.5 1790.9 L880.1 1788.5 L878.1 1785.7 L876.6 1782.6 L875.8 1779.2 L875.4 1775.8 L875.5 1640 Z" fill="#fdfefc" stroke="none" clip-path="url(#cpR)"/>
<path d="M847 1640 L847 1775.9 L847.7 1784.2 L849.9 1792.3 L853.4 1799.9 L858.2 1806.8 L864.2 1812.8 L871.1 1817.6 L878.7 1821.2 L886.8 1823.3 L895.2 1824.1 L903.6 1823.3 L911.7 1821.2 L919.3 1817.6 L1567.1 1443.6" stroke-width="3.3" shape-rendering="geometricPrecision"/>
<path d="M875.5 1640 L875.4 1775.8 L875.8 1779.2 L876.6 1782.6 L878.1 1785.7 L880.1 1788.5 L882.5 1790.9 L885.3 1792.9 L888.4 1794.4 L891.8 1795.3 L895.2 1795.6 L898.6 1795.3 L902 1794.4 L905.1 1792.9 L1552.9 1419" stroke-width="3.3" shape-rendering="geometricPrecision"/>
<path d="M687.2 1386.6 L687.3 1460.6 L688 1468.7 L690.1 1476.6 L693.6 1484.1 L698.3 1490.8 L704.1 1496.6 L710.8 1501.3 L718.2 1504.8 L726.2 1506.9 L734.3 1507.6 L742.5 1506.9 L750.4 1504.8 L757.8 1501.3 L807.1 1472.8 L792.9 1448.2 L743.7 1476.6 L740.7 1478 L737.6 1478.8 L734.3 1479.1 L731.1 1478.8 L728 1478 L725 1476.6 L722.4 1474.8 L720.1 1472.5 L718.2 1469.8 L716.9 1466.9 L716 1463.7 L715.7 1460.4 L715.8 1386.6 Z" fill="#fdfefc" stroke="none" clip-path="url(#cpR)"/>
<path d="M687.2 1386.6 L687.3 1460.6 L688 1468.7 L690.1 1476.6 L693.6 1484.1 L698.3 1490.8 L704.1 1496.6 L710.8 1501.3 L718.2 1504.8 L726.2 1506.9 L734.3 1507.6 L742.5 1506.9 L750.4 1504.8 L757.8 1501.3 L807.1 1472.8" stroke-width="3.3" shape-rendering="geometricPrecision"/>
<path d="M715.8 1386.6 L715.7 1460.4 L716 1463.7 L716.9 1466.9 L718.2 1469.8 L720.1 1472.5 L722.4 1474.8 L725 1476.6 L728 1478 L731.1 1478.8 L734.3 1479.1 L737.6 1478.8 L740.7 1478 L743.7 1476.6 L792.9 1448.2" stroke-width="3.3" shape-rendering="geometricPrecision"/>
<path d="M492.9 1286.7 L493 1358.6 L493.7 1366.9 L495.9 1375 L499.4 1382.6 L504.2 1389.5 L510.2 1395.5 L517.1 1400.3 L524.7 1403.9 L532.8 1406 L541.2 1406.8 L549.6 1406 L557.7 1403.9 L565.3 1400.3 L872.7 1223 L876.1 1221.2 L879.6 1219.7 L883.3 1218.6 L887 1217.8 L890.8 1217.3 L894.6 1217.1 L898.5 1217.3 L902.3 1217.8 L906 1218.6 L909.7 1219.8 L913.2 1221.3 L916.6 1223.1 L1365.3 1484.8 L1371 1487.8 L1377 1490.3 L1383.2 1492.3 L1389.5 1493.7 L1396 1494.6 L1402.5 1494.9 L1409 1494.6 L1415.4 1493.8 L1421.8 1492.4 L1428 1490.4 L1434 1487.9 L1439.8 1484.9 L1707.1 1330.6 L1692.9 1306 L1425.5 1460.3 L1422 1462.1 L1418.3 1463.6 L1414.4 1464.8 L1410.5 1465.7 L1406.6 1466.2 L1402.6 1466.4 L1398.6 1466.2 L1394.6 1465.7 L1390.7 1464.8 L1386.9 1463.6 L1383.2 1462 L1379.6 1460.1 L930.9 1198.4 L925.3 1195.5 L919.5 1193.1 L913.5 1191.1 L907.3 1189.7 L901 1188.9 L894.7 1188.6 L888.4 1188.9 L882.1 1189.7 L875.9 1191 L869.9 1192.9 L864 1195.4 L858.4 1198.3 L551.1 1375.6 L548 1377.1 L544.6 1378 L541.2 1378.3 L537.8 1378 L534.4 1377.1 L531.3 1375.6 L528.5 1373.7 L526.1 1371.2 L524.1 1368.4 L522.6 1365.3 L521.7 1362 L521.4 1358.4 L521.5 1286.7 Z" fill="#fdfefc" stroke="none" clip-path="url(#cpR)"/>
<path d="M492.9 1286.7 L493 1358.6 L493.7 1366.9 L495.9 1375 L499.4 1382.6 L504.2 1389.5 L510.2 1395.5 L517.1 1400.3 L524.7 1403.9 L532.8 1406 L541.2 1406.8 L549.6 1406 L557.7 1403.9 L565.3 1400.3 L872.7 1223 L876.1 1221.2 L879.6 1219.7 L883.3 1218.6 L887 1217.8 L890.8 1217.3 L894.6 1217.1 L898.5 1217.3 L902.3 1217.8 L906 1218.6 L909.7 1219.8 L913.2 1221.3 L916.6 1223.1 L1365.3 1484.8 L1371 1487.8 L1377 1490.3 L1383.2 1492.3 L1389.5 1493.7 L1396 1494.6 L1402.5 1494.9 L1409 1494.6 L1415.4 1493.8 L1421.8 1492.4 L1428 1490.4 L1434 1487.9 L1439.8 1484.9 L1707.1 1330.6" stroke-width="3.3" shape-rendering="geometricPrecision"/>
<path d="M521.5 1286.7 L521.4 1358.4 L521.7 1362 L522.6 1365.3 L524.1 1368.4 L526.1 1371.2 L528.5 1373.7 L531.3 1375.6 L534.4 1377.1 L537.8 1378 L541.2 1378.3 L544.6 1378 L548 1377.1 L551.1 1375.6 L858.4 1198.3 L864 1195.4 L869.9 1192.9 L875.9 1191 L882.1 1189.7 L888.4 1188.9 L894.7 1188.6 L901 1188.9 L907.3 1189.7 L913.5 1191.1 L919.5 1193.1 L925.3 1195.5 L930.9 1198.4 L1379.6 1460.1 L1383.2 1462 L1386.9 1463.6 L1390.7 1464.8 L1394.6 1465.7 L1398.6 1466.2 L1402.6 1466.4 L1406.6 1466.2 L1410.5 1465.7 L1414.4 1464.8 L1418.3 1463.6 L1422 1462.1 L1425.5 1460.3 L1692.9 1306" stroke-width="3.3" shape-rendering="geometricPrecision"/>
<path d="M1567.1 1443.6 L1611.2 1418.2 L1615.7 1415.3 L1620 1412 L1624 1408.3 L1627.7 1404.3 L1631 1400 L1633.9 1395.4 L1636.4 1390.6 L1638.5 1385.6 L1640.1 1380.4 L1641.3 1375.1 L1642 1369.7 L1642.2 1364.3 L1642.2 1289.7 L1642.4 1286.6 L1642.8 1283.5 L1643.5 1280.4 L1644.4 1277.4 L1645.6 1274.5 L1647.1 1271.7 L1648.8 1269.1 L1650.7 1266.6 L1652.9 1264.3 L1655.2 1262.2 L1657.7 1260.3 L1660.4 1258.6 L1806.8 1175.4 L1792.8 1150.6 L1646.2 1233.8 L1641.5 1236.8 L1637 1240.2 L1632.8 1244 L1629 1248.2 L1625.5 1252.6 L1622.5 1257.4 L1619.8 1262.4 L1617.7 1267.6 L1616 1273 L1614.7 1278.5 L1614 1284.1 L1613.8 1289.7 L1613.8 1364.3 L1613.6 1367.2 L1613.2 1370.2 L1612.6 1373 L1611.7 1375.8 L1610.6 1378.6 L1609.2 1381.2 L1607.7 1383.7 L1605.9 1386 L1603.9 1388.2 L1601.7 1390.1 L1599.4 1391.9 L1596.8 1393.5 L1552.9 1419 Z" fill="#fdfefc" stroke="none" clip-path="url(#cpR)"/>
<path d="M1567.1 1443.6 L1611.2 1418.2 L1615.7 1415.3 L1620 1412 L1624 1408.3 L1627.7 1404.3 L1631 1400 L1633.9 1395.4 L1636.4 1390.6 L1638.5 1385.6 L1640.1 1380.4 L1641.3 1375.1 L1642 1369.7 L1642.2 1364.3 L1642.2 1289.7 L1642.4 1286.6 L1642.8 1283.5 L1643.5 1280.4 L1644.4 1277.4 L1645.6 1274.5 L1647.1 1271.7 L1648.8 1269.1 L1650.7 1266.6 L1652.9 1264.3 L1655.2 1262.2 L1657.7 1260.3 L1660.4 1258.6 L1806.8 1175.4" stroke-width="3.3" shape-rendering="geometricPrecision"/>
<path d="M1552.9 1419 L1596.8 1393.5 L1599.4 1391.9 L1601.7 1390.1 L1603.9 1388.2 L1605.9 1386 L1607.7 1383.7 L1609.2 1381.2 L1610.6 1378.6 L1611.7 1375.8 L1612.6 1373 L1613.2 1370.2 L1613.6 1367.2 L1613.8 1364.3 L1613.8 1289.7 L1614 1284.1 L1614.7 1278.5 L1616 1273 L1617.7 1267.6 L1619.8 1262.4 L1622.5 1257.4 L1625.5 1252.6 L1629 1248.2 L1632.8 1244 L1637 1240.2 L1641.5 1236.8 L1646.2 1233.8 L1792.8 1150.6" stroke-width="3.3" shape-rendering="geometricPrecision"/>
<path d="M1792.1 1150.7 C1794 1151.5 1800.9 1153 1803.8 1155.7 C1806.7 1158.4 1808.7 1163.5 1809.3 1166.7 C1809.9 1169.9 1807.7 1173.4 1807.4 1174.7" stroke-width="1.6"/>
<path d="M1034.6 1586.9 L1034 1678.1 L1034.7 1686 L1036.6 1693.8 L1039.8 1701.2 L1044.2 1707.9 L1049.7 1713.8 L1056.1 1718.8 L1063.2 1722.6 L1070.8 1725.1 L1078.7 1726.4 L1086.8 1726.3 L1094.7 1724.9 L1102.2 1722.2 L1533.9 1526 L1522.1 1500 L1090.5 1696.2 L1087.4 1697.3 L1084.1 1697.9 L1080.8 1698 L1077.6 1697.4 L1074.5 1696.4 L1071.6 1694.8 L1069 1692.8 L1066.7 1690.4 L1064.9 1687.6 L1063.6 1684.6 L1062.8 1681.4 L1062.5 1678.1 L1063 1587.1 Z" fill="#fdfefc" stroke="none" clip-path="url(#cpR)"/>
<path d="M1034.6 1586.9 L1034 1678.1 L1034.7 1686 L1036.6 1693.8 L1039.8 1701.2 L1044.2 1707.9 L1049.7 1713.8 L1056.1 1718.8 L1063.2 1722.6 L1070.8 1725.1 L1078.7 1726.4 L1086.8 1726.3 L1094.7 1724.9 L1102.2 1722.2 L1533.9 1526" stroke-width="3.3" shape-rendering="geometricPrecision"/>
<path d="M1063 1587.1 L1062.5 1678.1 L1062.8 1681.4 L1063.6 1684.6 L1064.9 1687.6 L1066.7 1690.4 L1069 1692.8 L1071.6 1694.8 L1074.5 1696.4 L1077.6 1697.4 L1080.8 1698 L1084.1 1697.9 L1087.4 1697.3 L1090.5 1696.2 L1522.1 1500" stroke-width="3.3" shape-rendering="geometricPrecision"/>
<path d="M1179.1 1512.3 L1256.5 1467.8 L1259.9 1466.2 L1263.5 1465.2 L1267.2 1464.9 L1270.8 1465.1 L1274.4 1466 L1277.8 1467.5 L1280.9 1469.6 L1283.6 1472.1 L1285.8 1475.1 L1287.5 1478.4 L1288.6 1481.9 L1289.1 1485.6 L1298.3 1674.3 L1299.4 1682.4 L1301.8 1690.2 L1305.6 1697.5 L1310.5 1704.1 L1316.5 1709.7 L1323.3 1714.2 L1330.8 1717.5 L1338.7 1719.5 L1346.9 1720.2 L1355.1 1719.4 L1363 1717.2 L1370.4 1713.8 L1888.1 1417.4 L1873.9 1392.6 L1356.3 1689 L1353.2 1690.5 L1350 1691.3 L1346.7 1691.7 L1343.3 1691.4 L1340.1 1690.6 L1337 1689.2 L1334.2 1687.4 L1331.7 1685.1 L1329.7 1682.4 L1328.2 1679.4 L1327.2 1676.2 L1326.7 1672.8 L1317.6 1484.1 L1316.4 1475.7 L1313.9 1467.5 L1310 1459.9 L1304.8 1453.1 L1298.6 1447.2 L1291.5 1442.5 L1283.7 1439.1 L1275.4 1437 L1266.8 1436.4 L1258.3 1437.2 L1250.1 1439.4 L1242.4 1443 L1164.9 1487.7 Z" fill="#fdfefc" stroke="none" clip-path="url(#cpR)"/>
<path d="M1179.1 1512.3 L1256.5 1467.8 L1259.9 1466.2 L1263.5 1465.2 L1267.2 1464.9 L1270.8 1465.1 L1274.4 1466 L1277.8 1467.5 L1280.9 1469.6 L1283.6 1472.1 L1285.8 1475.1 L1287.5 1478.4 L1288.6 1481.9 L1289.1 1485.6 L1298.3 1674.3 L1299.4 1682.4 L1301.8 1690.2 L1305.6 1697.5 L1310.5 1704.1 L1316.5 1709.7 L1323.3 1714.2 L1330.8 1717.5 L1338.7 1719.5 L1346.9 1720.2 L1355.1 1719.4 L1363 1717.2 L1370.4 1713.8 L1888.1 1417.4" stroke-width="3.3" shape-rendering="geometricPrecision"/>
<path d="M1164.9 1487.7 L1242.4 1443 L1250.1 1439.4 L1258.3 1437.2 L1266.8 1436.4 L1275.4 1437 L1283.7 1439.1 L1291.5 1442.5 L1298.6 1447.2 L1304.8 1453.1 L1310 1459.9 L1313.9 1467.5 L1316.4 1475.7 L1317.6 1484.1 L1326.7 1672.8 L1327.2 1676.2 L1328.2 1679.4 L1329.7 1682.4 L1331.7 1685.1 L1334.2 1687.4 L1337 1689.2 L1340.1 1690.6 L1343.3 1691.4 L1346.7 1691.7 L1350 1691.3 L1353.2 1690.5 L1356.3 1689 L1873.9 1392.6" stroke-width="3.3" shape-rendering="geometricPrecision"/>
<path d="M1873.3 1392.5 C1875.2 1393.3 1882.1 1394.8 1885 1397.5 C1887.9 1400.2 1889.9 1405.3 1890.5 1408.5 C1891.1 1411.7 1888.9 1415.2 1888.6 1416.5" stroke-width="1.6"/>
<path d="M825.4 1464.7 L825.4 1540.2 L826.1 1548.5 L828.3 1556.6 L831.8 1564.2 L836.6 1571.1 L842.6 1577.1 L849.5 1581.9 L857.1 1585.5 L865.2 1587.6 L873.6 1588.4 L882 1587.6 L890.1 1585.5 L897.7 1581.9 L1294.2 1353.1 L1298.3 1351.1 L1302.5 1349.5 L1306.8 1348.4 L1311.3 1347.7 L1315.8 1347.5 L1320.3 1347.8 L1324.7 1348.6 L1329 1349.9 L1333.2 1351.6 L1337.1 1353.8 L1340.8 1356.4 L1344.2 1359.4 L1483 1494.4 L1488.7 1499.3 L1494.9 1503.7 L1501.5 1507.3 L1508.5 1510.2 L1515.7 1512.4 L1523.2 1513.7 L1530.7 1514.3 L1538.3 1514 L1545.8 1512.9 L1553.1 1511 L1560.2 1508.4 L1566.9 1505 L1888.1 1321 L1873.9 1296.2 L1552.8 1480.2 L1548.7 1482.3 L1544.5 1483.8 L1540.2 1485 L1535.7 1485.6 L1531.2 1485.8 L1526.8 1485.4 L1522.3 1484.6 L1518 1483.4 L1513.9 1481.6 L1509.9 1479.5 L1506.3 1476.9 L1502.9 1473.9 L1364.1 1338.9 L1358.4 1333.9 L1352.2 1329.6 L1345.5 1326 L1338.5 1323 L1331.3 1320.9 L1323.8 1319.6 L1316.2 1319 L1308.7 1319.3 L1301.2 1320.4 L1293.8 1322.3 L1286.8 1325 L1280 1328.4 L883.5 1557.2 L880.4 1558.7 L877 1559.6 L873.6 1559.9 L870.2 1559.6 L866.8 1558.7 L863.7 1557.2 L860.9 1555.3 L858.5 1552.8 L856.5 1550 L855 1546.9 L854.1 1543.6 L853.8 1540 L853.9 1464.7 Z" fill="#fdfefc" stroke="none" clip-path="url(#cpR)"/>
<path d="M825.4 1464.7 L825.4 1540.2 L826.1 1548.5 L828.3 1556.6 L831.8 1564.2 L836.6 1571.1 L842.6 1577.1 L849.5 1581.9 L857.1 1585.5 L865.2 1587.6 L873.6 1588.4 L882 1587.6 L890.1 1585.5 L897.7 1581.9 L1294.2 1353.1 L1298.3 1351.1 L1302.5 1349.5 L1306.8 1348.4 L1311.3 1347.7 L1315.8 1347.5 L1320.3 1347.8 L1324.7 1348.6 L1329 1349.9 L1333.2 1351.6 L1337.1 1353.8 L1340.8 1356.4 L1344.2 1359.4 L1483 1494.4 L1488.7 1499.3 L1494.9 1503.7 L1501.5 1507.3 L1508.5 1510.2 L1515.7 1512.4 L1523.2 1513.7 L1530.7 1514.3 L1538.3 1514 L1545.8 1512.9 L1553.1 1511 L1560.2 1508.4 L1566.9 1505 L1888.1 1321" stroke-width="3.3" shape-rendering="geometricPrecision"/>
<path d="M853.9 1464.7 L853.8 1540 L854.1 1543.6 L855 1546.9 L856.5 1550 L858.5 1552.8 L860.9 1555.3 L863.7 1557.2 L866.8 1558.7 L870.2 1559.6 L873.6 1559.9 L877 1559.6 L880.4 1558.7 L883.5 1557.2 L1280 1328.4 L1286.8 1325 L1293.8 1322.3 L1301.2 1320.4 L1308.7 1319.3 L1316.2 1319 L1323.8 1319.6 L1331.3 1320.9 L1338.5 1323 L1345.5 1326 L1352.2 1329.6 L1358.4 1333.9 L1364.1 1338.9 L1502.9 1473.9 L1506.3 1476.9 L1509.9 1479.5 L1513.9 1481.6 L1518 1483.4 L1522.3 1484.6 L1526.8 1485.4 L1531.2 1485.8 L1535.7 1485.6 L1540.2 1485 L1544.5 1483.8 L1548.7 1482.3 L1552.8 1480.2 L1873.9 1296.2" stroke-width="3.3" shape-rendering="geometricPrecision"/>
<path d="M1873.3 1296.1 C1875.2 1296.9 1882.1 1298.4 1885 1301.1 C1887.9 1303.8 1889.9 1308.9 1890.5 1312.1 C1891.1 1315.3 1888.9 1318.8 1888.6 1320.1" stroke-width="1.6"/>
<path d="M1606.8 1646.8 L1728.6 1580.8 L1733.5 1577.7 L1738.1 1574.2 L1742.3 1570.1 L1746.1 1565.7 L1749.3 1560.8 L1752 1555.6 L1754.2 1550.2 L1755.7 1544.6 L1756.6 1538.9 L1756.9 1533 L1756.6 1527.2 L1755.7 1521.5 L1716.8 1343.9 L1716.3 1341.2 L1716.2 1338.5 L1716.3 1335.8 L1716.7 1333.1 L1717.4 1330.5 L1718.4 1327.9 L1719.6 1325.5 L1721.1 1323.2 L1722.8 1321.1 L1724.7 1319.2 L1726.8 1317.5 L1729.1 1316 L1888.1 1224.6 L1873.9 1199.8 L1714.9 1291.3 L1710.1 1294.4 L1705.6 1298 L1701.6 1302.1 L1698 1306.5 L1694.9 1311.3 L1692.3 1316.4 L1690.3 1321.7 L1688.8 1327.3 L1688 1332.9 L1687.7 1338.6 L1688 1344.3 L1688.9 1349.9 L1727.8 1527.6 L1728.3 1530.3 L1728.4 1533.1 L1728.3 1535.8 L1727.9 1538.6 L1727.1 1541.2 L1726.1 1543.8 L1724.8 1546.2 L1723.3 1548.5 L1721.5 1550.7 L1719.5 1552.6 L1717.3 1554.3 L1715 1555.7 L1593.2 1621.8 Z" fill="#fdfefc" stroke="none" clip-path="url(#cpR)"/>
<path d="M1606.8 1646.8 L1728.6 1580.8 L1733.5 1577.7 L1738.1 1574.2 L1742.3 1570.1 L1746.1 1565.7 L1749.3 1560.8 L1752 1555.6 L1754.2 1550.2 L1755.7 1544.6 L1756.6 1538.9 L1756.9 1533 L1756.6 1527.2 L1755.7 1521.5 L1716.8 1343.9 L1716.3 1341.2 L1716.2 1338.5 L1716.3 1335.8 L1716.7 1333.1 L1717.4 1330.5 L1718.4 1327.9 L1719.6 1325.5 L1721.1 1323.2 L1722.8 1321.1 L1724.7 1319.2 L1726.8 1317.5 L1729.1 1316 L1888.1 1224.6" stroke-width="3.3" shape-rendering="geometricPrecision"/>
<path d="M1593.2 1621.8 L1715 1555.7 L1717.3 1554.3 L1719.5 1552.6 L1721.5 1550.7 L1723.3 1548.5 L1724.8 1546.2 L1726.1 1543.8 L1727.1 1541.2 L1727.9 1538.6 L1728.3 1535.8 L1728.4 1533.1 L1728.3 1530.3 L1727.8 1527.6 L1688.9 1349.9 L1688 1344.3 L1687.7 1338.6 L1688 1332.9 L1688.8 1327.3 L1690.3 1321.7 L1692.3 1316.4 L1694.9 1311.3 L1698 1306.5 L1701.6 1302.1 L1705.6 1298 L1710.1 1294.4 L1714.9 1291.3 L1873.9 1199.8" stroke-width="3.3" shape-rendering="geometricPrecision"/>
<path d="M1873.3 1199.7 C1875.2 1200.5 1882.1 1202 1885 1204.7 C1887.9 1207.4 1889.9 1212.5 1890.5 1215.7 C1891.1 1218.9 1888.9 1222.4 1888.6 1223.7" stroke-width="1.6"/>
<g transform="translate(507.2 1241.7)" shape-rendering="geometricPrecision">
<path d="M-44 -1.6 L-15 -20.5 L-9.4 -21.7 L21.3 -6.3 L43.3 11 L43.3 34.6 L18.9 48 L7 48.8 L-16.5 37 L-37 22.8 L-44 17.3 Z" stroke-width="3.4"/>
<path d="M-41 4.7 L7 31.5 L40 13.4" stroke-width="1.5"/>
<path d="M-35 15 L-20 24" stroke-width="1.5"/>
<path d="M-5 32 L8 41 L25 31.5" stroke-width="1.5"/>
<ellipse cx="0" cy="0" rx="20.5" ry="12.6" stroke-width="3"/>
<ellipse cx="0" cy="-1" rx="12" ry="7.4" stroke-width="3"/>
<path d="M-17 6 Q-6 16 9 12" stroke-width="1.6"/>
<ellipse cx="-32" cy="0" rx="4.6" ry="2.8" fill="#000" stroke-width="1.5"/>
<ellipse cx="32.5" cy="13.4" rx="4.6" ry="2.8" fill="#000" stroke-width="1.5"/>
<ellipse cx="11" cy="26" rx="4.6" ry="2.8" fill="#000" stroke-width="1.5"/>
</g>
<g transform="translate(701.5 1341.6)" shape-rendering="geometricPrecision">
<path d="M-44 -1.6 L-15 -20.5 L-9.4 -21.7 L21.3 -6.3 L43.3 11 L43.3 34.6 L18.9 48 L7 48.8 L-16.5 37 L-37 22.8 L-44 17.3 Z" stroke-width="3.4"/>
<path d="M-41 4.7 L7 31.5 L40 13.4" stroke-width="1.5"/>
<path d="M-35 15 L-20 24" stroke-width="1.5"/>
<path d="M-5 32 L8 41 L25 31.5" stroke-width="1.5"/>
<ellipse cx="0" cy="0" rx="20.5" ry="12.6" stroke-width="3"/>
<ellipse cx="0" cy="-1" rx="12" ry="7.4" stroke-width="3"/>
<path d="M-17 6 Q-6 16 9 12" stroke-width="1.6"/>
<ellipse cx="-32" cy="0" rx="4.6" ry="2.8" fill="#000" stroke-width="1.5"/>
<ellipse cx="32.5" cy="13.4" rx="4.6" ry="2.8" fill="#000" stroke-width="1.5"/>
<ellipse cx="11" cy="26" rx="4.6" ry="2.8" fill="#000" stroke-width="1.5"/>
</g>
<g transform="translate(839.6 1419.7)" shape-rendering="geometricPrecision">
<path d="M-44 -1.6 L-15 -20.5 L-9.4 -21.7 L21.3 -6.3 L43.3 11 L43.3 34.6 L18.9 48 L7 48.8 L-16.5 37 L-37 22.8 L-44 17.3 Z" stroke-width="3.4"/>
<path d="M-41 4.7 L7 31.5 L40 13.4" stroke-width="1.5"/>
<path d="M-35 15 L-20 24" stroke-width="1.5"/>
<path d="M-5 32 L8 41 L25 31.5" stroke-width="1.5"/>
<ellipse cx="0" cy="0" rx="20.5" ry="12.6" stroke-width="3"/>
<ellipse cx="0" cy="-1" rx="12" ry="7.4" stroke-width="3"/>
<path d="M-17 6 Q-6 16 9 12" stroke-width="1.6"/>
<ellipse cx="-32" cy="0" rx="4.6" ry="2.8" fill="#000" stroke-width="1.5"/>
<ellipse cx="32.5" cy="13.4" rx="4.6" ry="2.8" fill="#000" stroke-width="1.5"/>
<ellipse cx="11" cy="26" rx="4.6" ry="2.8" fill="#000" stroke-width="1.5"/>
</g>
<g transform="translate(861.2 1595)" shape-rendering="geometricPrecision">
<path d="M-44 -1.6 L-15 -20.5 L-9.4 -21.7 L21.3 -6.3 L43.3 11 L43.3 34.6 L18.9 48 L7 48.8 L-16.5 37 L-37 22.8 L-44 17.3 Z" stroke-width="3.4"/>
<path d="M-41 4.7 L7 31.5 L40 13.4" stroke-width="1.5"/>
<path d="M-35 15 L-20 24" stroke-width="1.5"/>
<path d="M-5 32 L8 41 L25 31.5" stroke-width="1.5"/>
<ellipse cx="0" cy="0" rx="20.5" ry="12.6" stroke-width="3"/>
<ellipse cx="0" cy="-1" rx="12" ry="7.4" stroke-width="3"/>
<path d="M-17 6 Q-6 16 9 12" stroke-width="1.6"/>
<ellipse cx="-32" cy="0" rx="4.6" ry="2.8" fill="#000" stroke-width="1.5"/>
<ellipse cx="32.5" cy="13.4" rx="4.6" ry="2.8" fill="#000" stroke-width="1.5"/>
<ellipse cx="11" cy="26" rx="4.6" ry="2.8" fill="#000" stroke-width="1.5"/>
</g>
<g transform="translate(1048.8 1542)" shape-rendering="geometricPrecision">
<path d="M-44 -1.6 L-15 -20.5 L-9.4 -21.7 L21.3 -6.3 L43.3 11 L43.3 34.6 L18.9 48 L7 48.8 L-16.5 37 L-37 22.8 L-44 17.3 Z" stroke-width="3.4"/>
<path d="M-41 4.7 L7 31.5 L40 13.4" stroke-width="1.5"/>
<path d="M-35 15 L-20 24" stroke-width="1.5"/>
<path d="M-5 32 L8 41 L25 31.5" stroke-width="1.5"/>
<ellipse cx="0" cy="0" rx="20.5" ry="12.6" stroke-width="3"/>
<ellipse cx="0" cy="-1" rx="12" ry="7.4" stroke-width="3"/>
<path d="M-17 6 Q-6 16 9 12" stroke-width="1.6"/>
<ellipse cx="-32" cy="0" rx="4.6" ry="2.8" fill="#000" stroke-width="1.5"/>
<ellipse cx="32.5" cy="13.4" rx="4.6" ry="2.8" fill="#000" stroke-width="1.5"/>
<ellipse cx="11" cy="26" rx="4.6" ry="2.8" fill="#000" stroke-width="1.5"/>
</g>
<g transform="translate(1157.5 1505)" shape-rendering="geometricPrecision">
<path d="M3.5 -51 L25 -39 L36.2 -22.5 L40 0 L36.2 25 L22.5 40 L11.2 42.5 L-11.2 22.5 L-17.5 0 L-16.2 -25 L-7.5 -42.5 Z" stroke-width="3.4"/>
<path d="M3.5 -51 C6.2 -48.3 16 -41.4 20 -35 C24 -28.6 26.2 -20.8 27.5 -12.5 C28.8 -4.2 29.2 6.7 27.5 15 C25.8 23.3 20.2 32.9 17.5 37.5 C14.8 42.1 12.2 41.7 11.2 42.5" stroke-width="2"/>
<ellipse cx="0" cy="0" rx="16" ry="24" transform="rotate(-12)" stroke-width="2.4"/>
<ellipse cx="0" cy="0" rx="11" ry="16.5" transform="rotate(-12)" stroke-width="2.4"/>
<ellipse cx="0" cy="0" rx="6" ry="10" transform="rotate(-12)" stroke-width="2.4"/>
<ellipse cx="-7.5" cy="-27.5" rx="3" ry="4" stroke-width="2"/>
<ellipse cx="13.7" cy="-18.7" rx="3" ry="4" stroke-width="2"/>
<ellipse cx="-8.7" cy="22.5" rx="3" ry="4" stroke-width="2"/>
<ellipse cx="13.7" cy="32.5" rx="3" ry="4" stroke-width="2"/>
</g>
<text x="1238" y="1224.7" font-size="28" fill="#dc0008" stroke="none" font-family="Liberation Sans">06</text>
<text x="479.5" y="1472.3" font-size="28" fill="#dc0008" stroke="none" font-family="Liberation Sans">12</text>
<text x="989.5" y="1868.5" font-size="28" fill="#dc0008" stroke="none" font-family="Liberation Sans">03</text>
<text x="1170" y="1777.7" font-size="28" fill="#dc0008" stroke="none" font-family="Liberation Sans">02</text>
<text x="1300.5" y="1803" font-size="28" fill="#dc0008" stroke="none" font-family="Liberation Sans">01</text>
<text x="1673.5" y="1708.5" font-size="28" fill="#dc0008" stroke="none" font-family="Liberation Sans">08</text>
<text x="882" y="2320.5" font-size="28" fill="#dc0008" stroke="none" font-family="Liberation Sans">20</text>
<text x="1022.5" y="2308.4" font-size="28" fill="#dc0008" stroke="none" font-family="Liberation Sans">17</text>
<text x="1223.3" y="2506.7" font-size="28" fill="#dc0008" stroke="none" font-family="Liberation Sans">19</text>
<text x="1183" y="2715.5" font-size="28" fill="#dc0008" stroke="none" font-family="Liberation Sans">18</text>
<path d="M1269 1269 L1287.2 1321.6" stroke-width="1.2"/>
<path d="M510.8 1390.6 L496.3 1441.5" stroke-width="1.2"/>
<path d="M988.8 1779.5 L1002.3 1834" stroke-width="1.2"/>
<path d="M1168.6 1697.8 L1182.4 1748.6" stroke-width="1.2"/>
<path d="M1343.7 1717.5 L1330 1777.5" stroke-width="1.2"/>
<path d="M1639.6 1639.5 L1674 1684.9" stroke-width="1.2"/>
<path d="M915.7 2361.4 L933.8 2417.4" stroke-width="1.2"/>
<path d="M1037.6 2352.3 L1055.5 2408.3" stroke-width="1.2"/>
<path d="M1171.4 2453.7 L1203.2 2484.6" stroke-width="1.2"/>
<path d="M1163.9 2624.7 L1181.4 2680" stroke-width="1.2"/>
<path d="M1887 1473.5 L1917.7 1525 L1904 1525 L1904 1560 L1870 1560 L1870 1525 L1858 1525 Z" stroke-width="1.5"/>
<text x="1881" y="1626.4" font-size="53" fill="#000" stroke="none" font-family="Liberation Sans">A</text>
<path d="M805.5 1657 L756.2 1690 L766.2 1695 L751.2 1727.5 L781.2 1741.2 L797.5 1711.2 L808.7 1716.2 Z" stroke-width="1.5"/>
<text x="739" y="1796" font-size="53" fill="#000" stroke="none" font-family="Liberation Sans">A</text>
<rect x="952" y="2594.4" width="86.2" height="86.3" stroke-width="1.5"/>
<text x="980" y="2652" font-size="53" fill="#000" stroke="none" font-family="Liberation Sans">A</text>
<path d="M46 60 L51.5 60" stroke-width="1.5" stroke-linecap="butt"/>
<path d="M2160 60 L2165.5 60" stroke-width="1.5" stroke-linecap="butt"/>
<path d="M46 2965 L51.5 2965" stroke-width="1.5" stroke-linecap="butt"/>
<path d="M2160 2965 L2165.5 2965" stroke-width="1.5" stroke-linecap="butt"/>
<g shape-rendering="geometricPrecision">
<path d="M912.9 2422.3 C910.8 2423.4 903.7 2426 900 2428.9 C896.3 2431.9 892.6 2436.3 890.8 2439.9 C888.9 2443.6 888.3 2446.8 889 2450.9 C889.7 2455.1 891.6 2461.5 895 2464.9 C898.4 2468.3 907 2470.4 909.4 2471.5" stroke-width="3.4"/>
<path d="M909.4 2471.5 L933.9 2458.3" stroke-width="3.4"/>
<path d="M912.9 2422.3 L924.3 2425.5" stroke-width="3.4"/>
<path d="M924.3 2425.5 C925.6 2426.7 929.9 2429.1 931.9 2432.3 C933.9 2435.6 936 2440.6 936.3 2444.9 C936.7 2449.3 934.3 2456.1 933.9 2458.3" stroke-width="3.4"/>
<path d="M908 2432.3 C909.4 2433.6 914.4 2436.8 916.3 2439.9 C918.2 2443 919.1 2446.9 919.3 2450.9 C919.5 2455 917.8 2462.1 917.5 2464.3" stroke-width="1.6"/>
<ellipse cx="904.4" cy="2451.3" rx="5.2" ry="7.2" transform="rotate(-20 904.4 2451.3)" stroke-width="1.8"/>
<path d="M901.9 2447.8 L905.9 2447.3 L907.9 2451.3 L906.4 2455.3 L902.4 2454.8 L900.9 2451.3 Z" stroke-width="1.5"/>
<path d="M924.3 2422.9 L968.9 2400" stroke-width="3.4"/>
<path d="M934.9 2448.9 L984.9 2421" stroke-width="3.4"/>
<path d="M968.9 2400 C970.2 2399.9 974.5 2398.2 976.9 2399.6 C979.2 2400.9 981.5 2404.4 982.9 2408 C984.2 2411.5 984.5 2418.8 984.9 2421" stroke-width="3.4"/>
<path d="M940.9 2417.4 C941.8 2419 945.8 2423.2 946.5 2426.9 C947.2 2430.7 945.5 2437.8 945.3 2439.9" stroke-width="1.6"/>
<path d="M947.3 2414 C948.2 2415.6 952.2 2419.9 952.9 2423.6 C953.6 2427.4 951.9 2434.4 951.7 2436.6" stroke-width="1.6"/>
<path d="M953.7 2410.7 C954.6 2412.3 958.6 2416.5 959.3 2420.3 C960 2424.1 958.3 2431.1 958.1 2433.3" stroke-width="1.6"/>
<path d="M960.1 2407.4 C961 2409 965 2413.2 965.7 2417 C966.4 2420.7 964.7 2427.8 964.5 2430" stroke-width="1.6"/>
<path d="M966.5 2404.1 C967.4 2405.7 971.3 2409.9 972.1 2413.6 C972.8 2417.4 971.1 2424.5 970.9 2426.6" stroke-width="1.6"/>
<path d="M972.9 2400.7 C973.8 2402.3 977.7 2406.6 978.5 2410.3 C979.2 2414.1 977.5 2421.1 977.3 2423.3" stroke-width="1.6"/>
<path d="M982.9 2407 L1006 2394 L1006 2459.9 L1039.8 2441.9" stroke-width="1.4"/>
<path d="M1020.8 2475.9 L1027.8 2424.3" stroke-width="3.4"/>
<path d="M1027.8 2424.3 L1054.8 2410 L1059.8 2411 L1078.7 2422.9 L1097.7 2438.3 L1106.7 2454.3" stroke-width="3.4"/>
<path d="M1106.7 2454.3 C1107.1 2458.6 1109 2471 1109.3 2479.9 C1109.6 2488.8 1109.8 2498.9 1108.7 2507.8 C1107.6 2516.8 1103.7 2529.5 1102.7 2533.8" stroke-width="3.4"/>
<path d="M1102.7 2533.8 L1077.8 2549.8 L1069.8 2551.8 L1061.8 2547.8 L1032.8 2525.8" stroke-width="3.4"/>
<path d="M1103.7 2445.9 C1105.9 2448.9 1114 2457.9 1116.7 2463.9 C1119.4 2469.9 1120.9 2476.7 1119.7 2481.9 C1118.5 2487 1111.4 2492.7 1109.7 2494.9" stroke-width="3.4"/>
<path d="M1029.8 2426.9 C1033.1 2427.8 1043.5 2430.2 1049.8 2432.3 C1056.1 2434.5 1062.4 2434.7 1067.8 2439.9 C1073.1 2445.2 1078.6 2453.9 1081.7 2463.9 C1084.9 2473.9 1086.6 2487.9 1086.7 2499.9 C1086.9 2511.8 1084.2 2527.5 1082.7 2535.8 C1081.2 2544.1 1078.6 2547.5 1077.8 2549.8" stroke-width="1.8"/>
<ellipse cx="1038.2" cy="2438.9" rx="9.5" ry="13" transform="rotate(-18 1038.2 2438.9)" stroke-width="2.8"/>
<path d="M1029.8 2432.3 C1030.5 2434.6 1031.8 2442.6 1034.2 2445.9 C1036.6 2449.3 1042.5 2451.2 1044.2 2452.3" stroke-width="1.6"/>
<path d="M1059.6 2453.9 C1060 2452.6 1060.6 2447.5 1062.2 2445.9 C1063.8 2444.4 1066.8 2443 1069.2 2444.5 C1071.5 2446 1075.2 2451.3 1076.2 2454.9 C1077.2 2458.5 1076.5 2463.5 1075.2 2465.9 C1073.8 2468.3 1070.2 2469.5 1068.2 2469.3 C1066.1 2469.1 1063.7 2465.6 1062.8 2464.9" stroke-width="2.8"/>
<path d="M1059.6 2530.8 C1060 2529.5 1060.6 2524.4 1062.2 2522.8 C1063.8 2521.3 1066.8 2519.9 1069.2 2521.4 C1071.5 2522.9 1075.2 2528.3 1076.2 2531.8 C1077.2 2535.4 1076.5 2540.4 1075.2 2542.8 C1073.8 2545.2 1070.2 2546.4 1068.2 2546.2 C1066.1 2546 1063.7 2542.5 1062.8 2541.8" stroke-width="2.8"/>
<path d="M1034.2 2524.2 C1035.5 2525.1 1039.3 2529 1041.8 2529.4 C1044.3 2529.9 1048.1 2528.8 1049.4 2526.8 C1050.7 2524.9 1049.7 2519.3 1049.8 2517.8" stroke-width="2.6"/>
<path d="M972.9 2509.8 L1045.8 2467.9" stroke-width="3.4"/>
<path d="M994.9 2547.8 L1064.8 2507.8" stroke-width="3.4"/>
<path d="M1045.8 2467.9 C1048.1 2469.2 1056 2471.5 1059.8 2475.5 C1063.5 2479.5 1067.5 2486.5 1068.4 2491.9 C1069.2 2497.3 1065.4 2505.2 1064.8 2507.8" stroke-width="1.8"/>
<ellipse cx="1149.7" cy="2431.3" rx="18.5" ry="25" transform="rotate(-17 1149.7 2431.3)" stroke-width="7"/>
<path d="M1114.7 2450.9 L1148.7 2432.9" stroke-width="1.4"/>
<path d="M1077.8 2419 L1104.7 2405" stroke-width="1.4"/>
<path d="M1121.3 2499.5 L1135.7 2509.8 L1149.7 2527.8 L1148.7 2545.8 L1135.7 2531.8 L1133.7 2519.8 L1127.7 2507.8 Z" fill="#000" stroke-width="1"/>
<ellipse cx="1123.7" cy="2616.7" rx="13.5" ry="18.5" transform="rotate(-20 1123.7 2616.7)" stroke-width="3.2"/>
<ellipse cx="1127.7" cy="2615.7" rx="10.5" ry="15.5" transform="rotate(-20 1127.7 2615.7)" stroke-width="1.8"/>
<path d="M1129.7 2597.7 C1131.2 2599.7 1137 2604.9 1138.7 2609.7 C1140.3 2614.6 1139.5 2623.9 1139.7 2626.7" stroke-width="1.6"/>
<path d="M1112.7 2599.7 L1138.7 2571.8" stroke-width="3.4"/>
<path d="M1133.7 2633.7 L1162.6 2622.7" stroke-width="3.4"/>
<path d="M1138.7 2571.8 C1140.5 2569.8 1145.5 2562.3 1149.7 2559.8 C1153.8 2557.3 1158.3 2555.8 1163.6 2556.8 C1169 2557.8 1176.6 2560.6 1181.6 2565.8 C1186.6 2570.9 1192.3 2580.4 1193.6 2587.8 C1194.9 2595.1 1192.3 2603.9 1189.6 2609.7 C1187 2615.6 1182.1 2620.5 1177.6 2622.7 C1173.1 2624.9 1165.1 2622.7 1162.6 2622.7" stroke-width="3.4"/>
<path d="M1141.7 2576.8 C1144.3 2575.9 1152.3 2571.3 1157.7 2571.8 C1163 2572.3 1169.8 2575.4 1173.6 2579.8 C1177.5 2584.1 1180.3 2591.7 1180.6 2597.7 C1181 2603.7 1176.5 2612.7 1175.6 2615.7" stroke-width="1.8"/>
<path d="M1149.7 2570.8 C1152 2570.4 1159 2567.8 1163.6 2568.8 C1168.3 2569.8 1173.9 2572.4 1177.6 2576.8 C1181.4 2581.1 1185 2589.2 1186 2594.7 C1187.1 2600.2 1184.4 2607.2 1184 2609.7" stroke-width="1.6"/>
<path d="M1145.7 2581.8 C1147.7 2582.1 1154 2581.6 1157.7 2583.8 C1161.3 2585.9 1165.6 2590.1 1167.6 2594.7 C1169.6 2599.4 1169.3 2608.9 1169.6 2611.7" stroke-width="1.4"/>
</g>
</g>
<g opacity="0.37">
<g fill="#fbb80e"><path d="M190.5 1317.7 L272.5 1317.7 L272.5 1268.7 Z"/><path d="M294.3 1317.7 L377.2 1317.7 L377.2 1268.7 Z"/></g>
<g fill="#a5a1a9">
<path fill-rule="evenodd" d="M98.2 1487 C98.2 1400 106 1345.5 230 1345.5 L348 1345.5 C472 1345.5 480 1400 480 1487 C480 1574 472 1628.7 348 1628.7 L230 1628.7 C106 1628.7 98.2 1574 98.2 1487 Z M185 1470 C185 1425 195 1413.2 240 1413.2 L339 1413.2 C384 1413.2 393.7 1425 393.7 1470 L393.7 1503 C393.7 1548 384 1560 339 1560 L240 1560 C195 1560 185 1548 185 1503 Z"/>
<path fill-rule="evenodd" d="M527 1348 L800 1348 C860 1348 877.5 1366 877.5 1415 L877.5 1480 C877.5 1505 872 1517 862 1523 C872 1529 877.5 1540 877.5 1560 L877.5 1626.2 L790 1626.2 L790 1580 C790 1562 784 1555 765 1555 L612.5 1555 L612.5 1626.2 L527 1626.2 Z M612.5 1415 L770 1415 C790 1415 797.5 1421 797.5 1440 L797.5 1462 C797.5 1480 790 1486 770 1486 L612.5 1486 Z"/>
<path d="M930.6 1347.5 L1068 1347.5 L1232.9 1553 L1232.9 1347.5 L1312.8 1347.5 L1312.8 1626 L1176 1626 L1010.9 1420 L1010.9 1626 L930.6 1626 Z"/>
<path d="M1367.3 1347.5 L1677.9 1347.5 L1677.9 1410.6 L1450.9 1410.6 L1450.9 1458.2 L1662.3 1458.2 L1662.3 1513.8 L1450.9 1513.8 L1450.9 1563 L1677.9 1563 L1677.9 1626 L1367.3 1626 Z"/>
<path d="M1732.2 1347.5 L1816 1347.5 L1816 1451.7 L1859.4 1451.7 L1971.3 1347.5 L2091.1 1347.5 L1932.5 1485 L2107.3 1626 L1984.4 1626 L1850 1520.5 L1816 1520.5 L1816 1626 L1732.2 1626 Z"/>
<g stroke="#a5a1a9" stroke-width="4.0" stroke-linejoin="miter" font-family="Liberation Sans" font-weight="bold" font-size="102.8">
<text transform="translate(105 1721.8) scale(1.256 1)" x="0.3" y="0" stroke-width="3.55">w</text>
<text transform="translate(215.8 1721.8) scale(1.256 1)" x="0.3" y="0" stroke-width="3.55">w</text>
<text transform="translate(326.5 1721.8) scale(1.256 1)" x="0.3" y="0" stroke-width="3.55">w</text>
<rect x="443.8" y="1703.2" width="21.8" height="20.5" stroke="none"/>
<text transform="translate(484.5 1721.8) scale(1.197 1)" x="-4.1" y="0" stroke-width="3.64">o</text>
<text transform="translate(569 1721.8) scale(1.185 1)" x="-6.7" y="0" stroke-width="3.66">r</text>
<text transform="translate(624.5 1721.8) scale(1.249 1)" x="-6.7" y="0" stroke-width="3.56">n</text>
<text transform="translate(707 1721.8) scale(1.179 1)" x="-4.1" y="0" stroke-width="3.67">e</text>
<text transform="translate(784 1721.8) scale(1.197 1)" x="-7.2" y="0" stroke-width="3.64">k</text>
<text transform="translate(862 1721.8) scale(1.344 1)" x="-7.2" y="0" stroke-width="3.41">i</text>
<text transform="translate(902.5 1721.8) scale(1.023 1)" x="-3.6" y="0" stroke-width="3.95">s</text>
<text transform="translate(967.5 1721.8) scale(1.155 1)" x="-6.7" y="0" stroke-width="3.71">m</text>
<text transform="translate(1075.8 1721.8) scale(0.954 1)" x="-3.1" y="0" stroke-width="4.09">a</text>
<text transform="translate(1155.8 1721.8) scale(1.242 1)" x="-7.2" y="0" stroke-width="3.57">k</text>
<text transform="translate(1234.5 1721.8) scale(1.309 1)" x="-7.2" y="0" stroke-width="3.46">i</text>
<text transform="translate(1277 1721.8) scale(1.244 1)" x="-6.7" y="0" stroke-width="3.57">n</text>
<text transform="translate(1357 1721.8) scale(0.977 1)" x="-3.1" y="0" stroke-width="4.05">a</text>
<text transform="translate(1438 1721.8) scale(1.326 1)" x="-7.2" y="0" stroke-width="3.44">l</text>
<text transform="translate(1478 1721.8) scale(1.023 1)" x="-3.1" y="0" stroke-width="3.95">a</text>
<text transform="translate(1557 1721.8) scale(1.130 1)" x="-6.7" y="0" stroke-width="3.76">r</text>
<text transform="translate(1613 1721.8) scale(1.326 1)" x="-7.2" y="0" stroke-width="3.44">i</text>
<rect x="1655" y="1703.2" width="22" height="20.5" stroke="none"/>
<text transform="translate(1697 1721.8) scale(0.918 1)" x="-4.1" y="0" stroke-width="4.17">c</text>
<text transform="translate(1760.8 1721.8) scale(1.183 1)" x="-4.1" y="0" stroke-width="3.66">o</text>
<text transform="translate(1844.5 1721.8) scale(1.155 1)" x="-6.7" y="0" stroke-width="3.71">m</text>
<rect x="1958" y="1703.2" width="21.5" height="20.5" stroke="none"/>
<text transform="translate(1999 1721.8) scale(1.313 1)" x="-1.3" y="0" stroke-width="3.46">t</text>
<text transform="translate(2058.8 1721.8) scale(1.152 1)" x="-6.7" y="0" stroke-width="3.72">r</text>
</g>
</g></g>
</svg>
</body></html>
